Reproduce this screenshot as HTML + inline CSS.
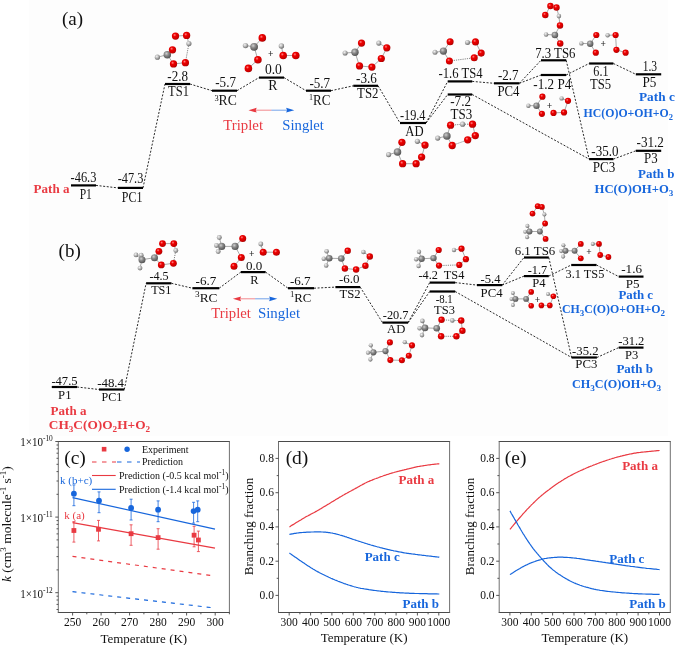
<!DOCTYPE html>
<html><head><meta charset="utf-8"><style>
html,body{margin:0;padding:0;background:#fff;}
svg{display:block;font-family:"Liberation Serif",serif;will-change:transform;}
</style></head><body>
<svg width="685" height="645" viewBox="0 0 685 645">
<defs>
<radialGradient id="gO" cx="0.38" cy="0.35" r="0.72"><stop offset="0" stop-color="#ff8a8a"/><stop offset="0.3" stop-color="#ee0000"/><stop offset="0.8" stop-color="#c80000"/><stop offset="1" stop-color="#900000"/></radialGradient>
<radialGradient id="gC" cx="0.38" cy="0.35" r="0.72"><stop offset="0" stop-color="#d0d0d0"/><stop offset="0.4" stop-color="#8a8a8a"/><stop offset="1" stop-color="#4a4a4a"/></radialGradient>
<radialGradient id="gH" cx="0.38" cy="0.35" r="0.72"><stop offset="0" stop-color="#f4f4f4"/><stop offset="0.45" stop-color="#b8b8b8"/><stop offset="1" stop-color="#5e5e5e"/></radialGradient>
</defs>
<rect x="0" y="0" width="685" height="645" fill="#fff"/>
<rect x="29" y="0" width="639" height="436" fill="#fdfdfd"/>

<text x="72.6" y="24.5" font-size="19" text-anchor="middle" fill="#111">(a)</text>
<line x1="96.0" y1="185.4" x2="118.0" y2="187.9" stroke="#111" stroke-width="0.9" stroke-dasharray="2 1.6"/>
<line x1="143.0" y1="187.9" x2="165.0" y2="84.0" stroke="#111" stroke-width="0.9" stroke-dasharray="2 1.6"/>
<line x1="190.0" y1="84.0" x2="212.0" y2="90.7" stroke="#111" stroke-width="0.9" stroke-dasharray="2 1.6"/>
<line x1="237.0" y1="90.7" x2="259.0" y2="77.6" stroke="#111" stroke-width="0.9" stroke-dasharray="2 1.6"/>
<line x1="284.0" y1="77.6" x2="306.0" y2="90.7" stroke="#111" stroke-width="0.9" stroke-dasharray="2 1.6"/>
<line x1="331.0" y1="90.7" x2="353.3" y2="85.8" stroke="#111" stroke-width="0.9" stroke-dasharray="2 1.6"/>
<line x1="378.1" y1="85.8" x2="400.0" y2="123.0" stroke="#111" stroke-width="0.9" stroke-dasharray="2 1.6"/>
<line x1="426.0" y1="123.0" x2="447.7" y2="81.4" stroke="#111" stroke-width="0.9" stroke-dasharray="2 1.6"/>
<line x1="426.0" y1="123.0" x2="447.7" y2="94.5" stroke="#111" stroke-width="0.9" stroke-dasharray="2 1.6"/>
<line x1="472.2" y1="81.4" x2="494.0" y2="83.3" stroke="#111" stroke-width="0.9" stroke-dasharray="2 1.6"/>
<line x1="472.2" y1="94.5" x2="589.1" y2="159.1" stroke="#111" stroke-width="0.9" stroke-dasharray="2 1.6"/>
<line x1="519.4" y1="83.3" x2="541.0" y2="60.3" stroke="#111" stroke-width="0.9" stroke-dasharray="2 1.6"/>
<line x1="519.4" y1="83.3" x2="541.0" y2="75.0" stroke="#111" stroke-width="0.9" stroke-dasharray="2 1.6"/>
<line x1="566.2" y1="60.3" x2="589.1" y2="159.1" stroke="#111" stroke-width="0.9" stroke-dasharray="2 1.6"/>
<line x1="566.2" y1="75.0" x2="589.1" y2="63.5" stroke="#111" stroke-width="0.9" stroke-dasharray="2 1.6"/>
<line x1="613.4" y1="63.5" x2="635.8" y2="74.3" stroke="#111" stroke-width="0.9" stroke-dasharray="2 1.6"/>
<line x1="613.4" y1="159.1" x2="635.8" y2="150.8" stroke="#111" stroke-width="0.9" stroke-dasharray="2 1.6"/>
<line x1="71.0" y1="185.4" x2="96.0" y2="185.4" stroke="#000" stroke-width="2.2"/>
<line x1="118.0" y1="187.9" x2="143.0" y2="187.9" stroke="#000" stroke-width="2.2"/>
<line x1="165.0" y1="84.0" x2="190.0" y2="84.0" stroke="#000" stroke-width="2.2"/>
<line x1="212.0" y1="90.7" x2="237.0" y2="90.7" stroke="#000" stroke-width="2.2"/>
<line x1="259.0" y1="77.6" x2="284.0" y2="77.6" stroke="#000" stroke-width="2.2"/>
<line x1="306.0" y1="90.7" x2="331.0" y2="90.7" stroke="#000" stroke-width="2.2"/>
<line x1="353.3" y1="85.8" x2="378.1" y2="85.8" stroke="#000" stroke-width="2.2"/>
<line x1="400.0" y1="123.0" x2="426.0" y2="123.0" stroke="#000" stroke-width="2.2"/>
<line x1="447.7" y1="81.4" x2="472.2" y2="81.4" stroke="#000" stroke-width="2.2"/>
<line x1="447.7" y1="94.5" x2="472.2" y2="94.5" stroke="#000" stroke-width="2.2"/>
<line x1="494.0" y1="83.3" x2="519.4" y2="83.3" stroke="#000" stroke-width="2.2"/>
<line x1="541.0" y1="60.3" x2="566.2" y2="60.3" stroke="#000" stroke-width="2.2"/>
<line x1="541.0" y1="75.0" x2="566.2" y2="75.0" stroke="#000" stroke-width="2.2"/>
<line x1="589.1" y1="63.5" x2="613.4" y2="63.5" stroke="#000" stroke-width="2.2"/>
<line x1="635.8" y1="74.3" x2="661.2" y2="74.3" stroke="#000" stroke-width="2.2"/>
<line x1="589.1" y1="159.1" x2="613.4" y2="159.1" stroke="#000" stroke-width="2.2"/>
<line x1="635.8" y1="150.8" x2="661.2" y2="150.8" stroke="#000" stroke-width="2.2"/>
<text x="83.5" y="182.1" font-size="13.8" text-anchor="middle" fill="#111" textLength="25.9" lengthAdjust="spacingAndGlyphs">-46.3</text>
<text x="85.8" y="198.5" font-size="13.8" text-anchor="middle" fill="#111" textLength="12.2" lengthAdjust="spacingAndGlyphs">P1</text>
<text x="130.5" y="183.3" font-size="13.8" text-anchor="middle" fill="#111" textLength="25.7" lengthAdjust="spacingAndGlyphs">-47.3</text>
<text x="132.1" y="201.8" font-size="13.8" text-anchor="middle" fill="#111" textLength="20.5" lengthAdjust="spacingAndGlyphs">PC1</text>
<text x="177.7" y="81.4" font-size="13.8" text-anchor="middle" fill="#111" textLength="20.7" lengthAdjust="spacingAndGlyphs">-2.8</text>
<text x="178.5" y="96.3" font-size="13.8" text-anchor="middle" fill="#111" textLength="20.8" lengthAdjust="spacingAndGlyphs">TS1</text>
<text x="225.6" y="87.1" font-size="13.8" text-anchor="middle" fill="#111" textLength="20.7" lengthAdjust="spacingAndGlyphs">-5.7</text>
<text x="225.6" y="105.0" font-size="13.8" text-anchor="middle" fill="#111" textLength="22.4" lengthAdjust="spacingAndGlyphs"><tspan font-size="8.5" dy="-4.5">3</tspan><tspan dy="4.5">RC</tspan></text>
<text x="273.4" y="73.9" font-size="13.8" text-anchor="middle" fill="#111" textLength="17.0" lengthAdjust="spacingAndGlyphs">0.0</text>
<text x="272.8" y="90.1" font-size="13.8" text-anchor="middle" fill="#111">R</text>
<text x="319.8" y="88.1" font-size="13.8" text-anchor="middle" fill="#111" textLength="20.7" lengthAdjust="spacingAndGlyphs">-5.7</text>
<text x="319.8" y="104.7" font-size="13.8" text-anchor="middle" fill="#111" textLength="21.4" lengthAdjust="spacingAndGlyphs"><tspan font-size="8.5" dy="-4.5">1</tspan><tspan dy="4.5">RC</tspan></text>
<text x="366.5" y="82.6" font-size="13.8" text-anchor="middle" fill="#111" textLength="20.8" lengthAdjust="spacingAndGlyphs">-3.6</text>
<text x="367.8" y="98.3" font-size="13.8" text-anchor="middle" fill="#111" textLength="21.4" lengthAdjust="spacingAndGlyphs">TS2</text>
<text x="412.7" y="120.4" font-size="13.8" text-anchor="middle" fill="#111" textLength="25.6" lengthAdjust="spacingAndGlyphs">-19.4</text>
<text x="414.4" y="135.8" font-size="13.8" text-anchor="middle" fill="#111" textLength="18.3" lengthAdjust="spacingAndGlyphs">AD</text>
<text x="460.6" y="77.7" font-size="13.8" text-anchor="middle" fill="#111" textLength="44.1" lengthAdjust="spacingAndGlyphs">-1.6 TS4</text>
<text x="460.6" y="106.3" font-size="13.8" text-anchor="middle" fill="#111" textLength="20.8" lengthAdjust="spacingAndGlyphs">-7.2</text>
<text x="461.4" y="119.4" font-size="13.8" text-anchor="middle" fill="#111" textLength="21.6" lengthAdjust="spacingAndGlyphs">TS3</text>
<text x="508.3" y="80.2" font-size="13.8" text-anchor="middle" fill="#111" textLength="20.5" lengthAdjust="spacingAndGlyphs">-2.7</text>
<text x="508.4" y="95.6" font-size="13.8" text-anchor="middle" fill="#111" textLength="22.0" lengthAdjust="spacingAndGlyphs">PC4</text>
<text x="555.3" y="57.6" font-size="13.8" text-anchor="middle" fill="#111" textLength="40.3" lengthAdjust="spacingAndGlyphs">7.3 TS6</text>
<text x="552.3" y="89.0" font-size="13.8" text-anchor="middle" fill="#111" textLength="37.9" lengthAdjust="spacingAndGlyphs">-1.2 P4</text>
<text x="600.9" y="75.7" font-size="13.8" text-anchor="middle" fill="#111" textLength="15.2" lengthAdjust="spacingAndGlyphs">6.1</text>
<text x="600.6" y="89.2" font-size="13.8" text-anchor="middle" fill="#111" textLength="21.1" lengthAdjust="spacingAndGlyphs">TS5</text>
<text x="649.9" y="70.8" font-size="13.8" text-anchor="middle" fill="#111" textLength="14.4" lengthAdjust="spacingAndGlyphs">1.3</text>
<text x="649.5" y="87.0" font-size="13.8" text-anchor="middle" fill="#111" textLength="13.9" lengthAdjust="spacingAndGlyphs">P5</text>
<text x="604.9" y="155.7" font-size="13.8" text-anchor="middle" fill="#111" textLength="27.1" lengthAdjust="spacingAndGlyphs">-35.0</text>
<text x="604.0" y="171.9" font-size="13.8" text-anchor="middle" fill="#111" textLength="22.5" lengthAdjust="spacingAndGlyphs">PC3</text>
<text x="650.2" y="146.8" font-size="13.8" text-anchor="middle" fill="#111" textLength="27.4" lengthAdjust="spacingAndGlyphs">-31.2</text>
<text x="650.9" y="163.0" font-size="13.8" text-anchor="middle" fill="#111" textLength="13.6" lengthAdjust="spacingAndGlyphs">P3</text>
<text x="33.6" y="192.8" font-size="13" text-anchor="start" fill="#e93a42" font-weight="bold" textLength="35.9" lengthAdjust="spacingAndGlyphs">Path a</text>
<text x="639.0" y="101.3" font-size="13" text-anchor="start" fill="#1766dc" font-weight="bold" textLength="35.8" lengthAdjust="spacingAndGlyphs">Path c</text>
<text x="583.6" y="116.7" font-size="12.3" text-anchor="start" fill="#1766dc" font-weight="bold" textLength="89.3" lengthAdjust="spacingAndGlyphs">HC(O)O+OH+O<tspan font-size="8.8" dy="3">2</tspan></text>
<text x="638.1" y="177.8" font-size="13" text-anchor="start" fill="#1766dc" font-weight="bold" textLength="36.4" lengthAdjust="spacingAndGlyphs">Path b</text>
<text x="594.6" y="192.7" font-size="12.3" text-anchor="start" fill="#1766dc" font-weight="bold" textLength="78.7" lengthAdjust="spacingAndGlyphs">HC(O)OH+O<tspan font-size="8.8" dy="3">3</tspan></text>
<line x1="254.5" y1="110.2" x2="271.4" y2="110.2" stroke="#e93a42" stroke-opacity="0.6" stroke-width="1"/>
<line x1="271.4" y1="110.2" x2="288.3" y2="110.2" stroke="#1766dc" stroke-opacity="0.6" stroke-width="1"/>
<path d="M248.5,110.2 L256.7,107.8 L255.7,110.2 L256.7,112.6 Z" fill="#e93a42"/>
<path d="M294.3,110.2 L286.1,107.8 L287.1,110.2 L286.1,112.6 Z" fill="#1766dc"/>
<text x="243.1" y="130.2" font-size="15.5" text-anchor="middle" fill="#e93a42" textLength="39.9" lengthAdjust="spacingAndGlyphs">Triplet</text>
<text x="303.1" y="130.2" font-size="15.5" text-anchor="middle" fill="#1766dc" textLength="41.6" lengthAdjust="spacingAndGlyphs">Singlet</text>
<line x1="175.5" y1="36.1" x2="186.6" y2="35.4" stroke="#aaa" stroke-width="1"/>
<line x1="186.6" y1="35.4" x2="188.9" y2="43.6" stroke="#aaa" stroke-width="1"/>
<line x1="167.3" y1="54.7" x2="172.5" y2="49.8" stroke="#aaa" stroke-width="1"/>
<line x1="167.3" y1="54.7" x2="157.4" y2="57.2" stroke="#aaa" stroke-width="1"/>
<line x1="167.3" y1="54.7" x2="173.5" y2="63.9" stroke="#aaa" stroke-width="1"/>
<line x1="173.5" y1="63.9" x2="185.4" y2="62.7" stroke="#aaa" stroke-width="1"/>
<line x1="188.9" y1="43.6" x2="185.4" y2="62.7" stroke="#777" stroke-width="0.9" stroke-dasharray="1.2 1"/>
<circle cx="188.9" cy="43.6" r="2.59" fill="url(#gH)"/>
<circle cx="157.4" cy="57.2" r="2.59" fill="url(#gH)"/>
<circle cx="167.3" cy="54.7" r="3.74" fill="url(#gC)"/>
<circle cx="175.5" cy="36.1" r="3.65" fill="url(#gO)"/>
<circle cx="186.6" cy="35.4" r="3.65" fill="url(#gO)"/>
<circle cx="172.5" cy="49.8" r="3.65" fill="url(#gO)"/>
<circle cx="173.5" cy="63.9" r="3.65" fill="url(#gO)"/>
<circle cx="185.4" cy="62.7" r="3.65" fill="url(#gO)"/>
<line x1="254.1" y1="46.8" x2="262.3" y2="37.9" stroke="#aaa" stroke-width="1"/>
<line x1="254.1" y1="46.8" x2="245.5" y2="45.6" stroke="#aaa" stroke-width="1"/>
<line x1="254.1" y1="46.8" x2="257.9" y2="59.7" stroke="#aaa" stroke-width="1"/>
<line x1="257.9" y1="59.7" x2="248.4" y2="68.4" stroke="#aaa" stroke-width="1"/>
<line x1="281.4" y1="46.0" x2="283.2" y2="55.5" stroke="#aaa" stroke-width="1"/>
<line x1="283.2" y1="55.5" x2="295.8" y2="55.5" stroke="#aaa" stroke-width="1"/>
<circle cx="245.5" cy="45.6" r="2.70" fill="url(#gH)"/>
<circle cx="281.4" cy="46.0" r="2.70" fill="url(#gH)"/>
<circle cx="254.1" cy="46.8" r="3.90" fill="url(#gC)"/>
<circle cx="262.3" cy="37.9" r="3.80" fill="url(#gO)"/>
<circle cx="257.9" cy="59.7" r="3.80" fill="url(#gO)"/>
<circle cx="248.4" cy="68.4" r="3.80" fill="url(#gO)"/>
<circle cx="283.2" cy="55.5" r="3.80" fill="url(#gO)"/>
<circle cx="295.8" cy="55.5" r="3.80" fill="url(#gO)"/>
<text x="270.8" y="56.5" font-size="9.5" text-anchor="middle" fill="#222" font-weight="bold">+</text>
<line x1="355.0" y1="52.3" x2="361.5" y2="43.1" stroke="#aaa" stroke-width="1"/>
<line x1="355.0" y1="52.3" x2="345.1" y2="53.0" stroke="#aaa" stroke-width="1"/>
<line x1="355.0" y1="52.3" x2="359.5" y2="65.9" stroke="#aaa" stroke-width="1"/>
<line x1="359.5" y1="65.9" x2="371.9" y2="67.1" stroke="#aaa" stroke-width="1"/>
<line x1="371.9" y1="67.1" x2="381.3" y2="58.5" stroke="#aaa" stroke-width="1"/>
<line x1="381.3" y1="58.5" x2="386.8" y2="47.8" stroke="#aaa" stroke-width="1"/>
<line x1="386.8" y1="47.8" x2="378.8" y2="43.1" stroke="#aaa" stroke-width="1"/>
<circle cx="345.1" cy="53.0" r="2.56" fill="url(#gH)"/>
<circle cx="378.8" cy="43.1" r="2.56" fill="url(#gH)"/>
<circle cx="355.0" cy="52.3" r="3.70" fill="url(#gC)"/>
<circle cx="361.5" cy="43.1" r="3.61" fill="url(#gO)"/>
<circle cx="359.5" cy="65.9" r="3.61" fill="url(#gO)"/>
<circle cx="371.9" cy="67.1" r="3.61" fill="url(#gO)"/>
<circle cx="381.3" cy="58.5" r="3.61" fill="url(#gO)"/>
<circle cx="386.8" cy="47.8" r="3.61" fill="url(#gO)"/>
<line x1="443.4" y1="51.1" x2="450.1" y2="41.7" stroke="#aaa" stroke-width="1"/>
<line x1="443.4" y1="51.1" x2="435.0" y2="52.3" stroke="#aaa" stroke-width="1"/>
<line x1="443.4" y1="51.1" x2="449.4" y2="61.0" stroke="#aaa" stroke-width="1"/>
<line x1="474.2" y1="57.8" x2="481.2" y2="53.1" stroke="#aaa" stroke-width="1"/>
<line x1="481.2" y1="53.1" x2="475.5" y2="41.9" stroke="#aaa" stroke-width="1"/>
<line x1="475.5" y1="41.9" x2="467.5" y2="42.4" stroke="#aaa" stroke-width="1"/>
<line x1="449.4" y1="61.0" x2="474.2" y2="57.8" stroke="#777" stroke-width="0.9" stroke-dasharray="1.2 1"/>
<circle cx="435.0" cy="52.3" r="2.51" fill="url(#gH)"/>
<circle cx="467.5" cy="42.4" r="2.51" fill="url(#gH)"/>
<circle cx="443.4" cy="51.1" r="3.63" fill="url(#gC)"/>
<circle cx="450.1" cy="41.7" r="3.53" fill="url(#gO)"/>
<circle cx="449.4" cy="61.0" r="3.53" fill="url(#gO)"/>
<circle cx="474.2" cy="57.8" r="3.53" fill="url(#gO)"/>
<circle cx="481.2" cy="53.1" r="3.53" fill="url(#gO)"/>
<circle cx="475.5" cy="41.9" r="3.53" fill="url(#gO)"/>
<line x1="550.4" y1="6.1" x2="556.5" y2="7.5" stroke="#aaa" stroke-width="1"/>
<line x1="550.4" y1="6.1" x2="545.3" y2="14.9" stroke="#aaa" stroke-width="1"/>
<line x1="556.5" y1="7.5" x2="558.9" y2="16.1" stroke="#aaa" stroke-width="1"/>
<line x1="558.9" y1="16.1" x2="560.0" y2="25.4" stroke="#aaa" stroke-width="1"/>
<line x1="560.0" y1="25.4" x2="554.9" y2="35.0" stroke="#aaa" stroke-width="1"/>
<line x1="554.9" y1="35.0" x2="546.1" y2="34.5" stroke="#aaa" stroke-width="1"/>
<line x1="554.9" y1="35.0" x2="560.2" y2="43.4" stroke="#aaa" stroke-width="1"/>
<circle cx="558.9" cy="16.1" r="2.29" fill="url(#gH)"/>
<circle cx="546.1" cy="34.5" r="2.29" fill="url(#gH)"/>
<circle cx="554.9" cy="35.0" r="3.31" fill="url(#gC)"/>
<circle cx="550.4" cy="6.1" r="3.23" fill="url(#gO)"/>
<circle cx="556.5" cy="7.5" r="3.23" fill="url(#gO)"/>
<circle cx="545.3" cy="14.9" r="3.23" fill="url(#gO)"/>
<circle cx="560.0" cy="25.4" r="3.23" fill="url(#gO)"/>
<circle cx="560.2" cy="43.4" r="3.23" fill="url(#gO)"/>
<line x1="590.2" y1="43.7" x2="581.4" y2="43.4" stroke="#aaa" stroke-width="1"/>
<line x1="590.2" y1="43.7" x2="596.3" y2="35.0" stroke="#aaa" stroke-width="1"/>
<line x1="590.2" y1="43.7" x2="595.8" y2="52.7" stroke="#aaa" stroke-width="1"/>
<line x1="607.6" y1="35.3" x2="615.6" y2="35.0" stroke="#aaa" stroke-width="1"/>
<line x1="615.6" y1="35.0" x2="616.4" y2="49.8" stroke="#aaa" stroke-width="1"/>
<line x1="616.4" y1="49.8" x2="625.6" y2="52.7" stroke="#aaa" stroke-width="1"/>
<circle cx="581.4" cy="43.4" r="2.21" fill="url(#gH)"/>
<circle cx="607.6" cy="35.3" r="2.21" fill="url(#gH)"/>
<circle cx="590.2" cy="43.7" r="3.20" fill="url(#gC)"/>
<circle cx="596.3" cy="35.0" r="3.12" fill="url(#gO)"/>
<circle cx="595.8" cy="52.7" r="3.12" fill="url(#gO)"/>
<circle cx="615.6" cy="35.0" r="3.12" fill="url(#gO)"/>
<circle cx="616.4" cy="49.8" r="3.12" fill="url(#gO)"/>
<circle cx="625.6" cy="52.7" r="3.12" fill="url(#gO)"/>
<text x="603.1" y="46.7" font-size="9.5" text-anchor="middle" fill="#222" font-weight="bold">+</text>
<line x1="536.5" y1="105.7" x2="542.4" y2="96.7" stroke="#aaa" stroke-width="1"/>
<line x1="536.5" y1="105.7" x2="528.4" y2="105.7" stroke="#aaa" stroke-width="1"/>
<line x1="536.5" y1="105.7" x2="541.9" y2="113.8" stroke="#aaa" stroke-width="1"/>
<line x1="561.6" y1="98.4" x2="568.0" y2="100.8" stroke="#aaa" stroke-width="1"/>
<line x1="568.0" y1="100.8" x2="564.0" y2="112.4" stroke="#aaa" stroke-width="1"/>
<line x1="564.0" y1="112.4" x2="553.5" y2="112.9" stroke="#aaa" stroke-width="1"/>
<circle cx="528.4" cy="105.7" r="2.21" fill="url(#gH)"/>
<circle cx="561.6" cy="98.4" r="2.21" fill="url(#gH)"/>
<circle cx="536.5" cy="105.7" r="3.20" fill="url(#gC)"/>
<circle cx="542.4" cy="96.7" r="3.12" fill="url(#gO)"/>
<circle cx="541.9" cy="113.8" r="3.12" fill="url(#gO)"/>
<circle cx="568.0" cy="100.8" r="3.12" fill="url(#gO)"/>
<circle cx="564.0" cy="112.4" r="3.12" fill="url(#gO)"/>
<circle cx="553.5" cy="112.9" r="3.12" fill="url(#gO)"/>
<text x="549.4" y="108.7" font-size="9.5" text-anchor="middle" fill="#222" font-weight="bold">+</text>
<line x1="397.5" y1="152.1" x2="401.9" y2="142.3" stroke="#aaa" stroke-width="1"/>
<line x1="397.5" y1="152.1" x2="388.6" y2="154.6" stroke="#aaa" stroke-width="1"/>
<line x1="397.5" y1="152.1" x2="402.6" y2="163.7" stroke="#aaa" stroke-width="1"/>
<line x1="402.6" y1="163.7" x2="416.1" y2="163.7" stroke="#aaa" stroke-width="1"/>
<line x1="416.1" y1="163.7" x2="421.6" y2="157.1" stroke="#aaa" stroke-width="1"/>
<line x1="421.6" y1="157.1" x2="425.0" y2="145.1" stroke="#aaa" stroke-width="1"/>
<line x1="425.0" y1="145.1" x2="417.4" y2="141.3" stroke="#aaa" stroke-width="1"/>
<circle cx="388.6" cy="154.6" r="2.59" fill="url(#gH)"/>
<circle cx="417.4" cy="141.3" r="2.59" fill="url(#gH)"/>
<circle cx="397.5" cy="152.1" r="3.74" fill="url(#gC)"/>
<circle cx="401.9" cy="142.3" r="3.65" fill="url(#gO)"/>
<circle cx="402.6" cy="163.7" r="3.65" fill="url(#gO)"/>
<circle cx="416.1" cy="163.7" r="3.65" fill="url(#gO)"/>
<circle cx="421.6" cy="157.1" r="3.65" fill="url(#gO)"/>
<circle cx="425.0" cy="145.1" r="3.65" fill="url(#gO)"/>
<line x1="446.9" y1="136.0" x2="450.6" y2="125.2" stroke="#aaa" stroke-width="1"/>
<line x1="446.9" y1="136.0" x2="452.2" y2="145.5" stroke="#aaa" stroke-width="1"/>
<line x1="446.9" y1="136.0" x2="437.7" y2="138.1" stroke="#aaa" stroke-width="1"/>
<line x1="472.5" y1="124.2" x2="475.3" y2="135.6" stroke="#aaa" stroke-width="1"/>
<line x1="475.3" y1="135.6" x2="467.7" y2="139.8" stroke="#aaa" stroke-width="1"/>
<line x1="450.6" y1="125.2" x2="462.6" y2="124.2" stroke="#777" stroke-width="0.9" stroke-dasharray="1.2 1"/>
<line x1="462.6" y1="124.2" x2="472.5" y2="124.2" stroke="#777" stroke-width="0.9" stroke-dasharray="1.2 1"/>
<line x1="452.2" y1="145.5" x2="467.7" y2="139.8" stroke="#777" stroke-width="0.9" stroke-dasharray="1.2 1"/>
<circle cx="462.6" cy="124.2" r="2.59" fill="url(#gH)"/>
<circle cx="437.7" cy="138.1" r="2.59" fill="url(#gH)"/>
<circle cx="446.9" cy="136.0" r="3.74" fill="url(#gC)"/>
<circle cx="450.6" cy="125.2" r="3.65" fill="url(#gO)"/>
<circle cx="472.5" cy="124.2" r="3.65" fill="url(#gO)"/>
<circle cx="475.3" cy="135.6" r="3.65" fill="url(#gO)"/>
<circle cx="467.7" cy="139.8" r="3.65" fill="url(#gO)"/>
<circle cx="452.2" cy="145.5" r="3.65" fill="url(#gO)"/>
<text x="69.7" y="256.7" font-size="19" text-anchor="middle" fill="#111">(b)</text>
<line x1="77.1" y1="387.0" x2="99.0" y2="389.5" stroke="#111" stroke-width="0.9" stroke-dasharray="2 1.6"/>
<line x1="124.3" y1="389.5" x2="146.1" y2="283.3" stroke="#111" stroke-width="0.9" stroke-dasharray="2 1.6"/>
<line x1="171.4" y1="283.3" x2="192.4" y2="288.2" stroke="#111" stroke-width="0.9" stroke-dasharray="2 1.6"/>
<line x1="219.2" y1="288.2" x2="240.8" y2="272.1" stroke="#111" stroke-width="0.9" stroke-dasharray="2 1.6"/>
<line x1="265.6" y1="272.1" x2="288.0" y2="288.2" stroke="#111" stroke-width="0.9" stroke-dasharray="2 1.6"/>
<line x1="314.0" y1="288.2" x2="335.4" y2="287.1" stroke="#111" stroke-width="0.9" stroke-dasharray="2 1.6"/>
<line x1="360.2" y1="287.1" x2="382.5" y2="322.6" stroke="#111" stroke-width="0.9" stroke-dasharray="2 1.6"/>
<line x1="408.1" y1="322.6" x2="429.7" y2="282.6" stroke="#111" stroke-width="0.9" stroke-dasharray="2 1.6"/>
<line x1="408.1" y1="322.6" x2="429.7" y2="291.5" stroke="#111" stroke-width="0.9" stroke-dasharray="2 1.6"/>
<line x1="455.2" y1="282.6" x2="476.9" y2="285.1" stroke="#111" stroke-width="0.9" stroke-dasharray="2 1.6"/>
<line x1="455.2" y1="291.5" x2="571.6" y2="357.5" stroke="#111" stroke-width="0.9" stroke-dasharray="2 1.6"/>
<line x1="502.2" y1="285.1" x2="524.0" y2="257.5" stroke="#111" stroke-width="0.9" stroke-dasharray="2 1.6"/>
<line x1="502.2" y1="285.1" x2="524.0" y2="276.1" stroke="#111" stroke-width="0.9" stroke-dasharray="2 1.6"/>
<line x1="548.8" y1="257.5" x2="571.6" y2="357.5" stroke="#111" stroke-width="0.9" stroke-dasharray="2 1.6"/>
<line x1="548.8" y1="276.1" x2="571.2" y2="265.0" stroke="#111" stroke-width="0.9" stroke-dasharray="2 1.6"/>
<line x1="596.5" y1="265.0" x2="618.7" y2="276.6" stroke="#111" stroke-width="0.9" stroke-dasharray="2 1.6"/>
<line x1="596.9" y1="357.5" x2="618.7" y2="347.6" stroke="#111" stroke-width="0.9" stroke-dasharray="2 1.6"/>
<line x1="51.8" y1="387.0" x2="77.1" y2="387.0" stroke="#000" stroke-width="2.2"/>
<line x1="99.0" y1="389.5" x2="124.3" y2="389.5" stroke="#000" stroke-width="2.2"/>
<line x1="146.1" y1="283.3" x2="171.4" y2="283.3" stroke="#000" stroke-width="2.2"/>
<line x1="192.4" y1="288.2" x2="219.2" y2="288.2" stroke="#000" stroke-width="2.2"/>
<line x1="240.8" y1="272.1" x2="265.6" y2="272.1" stroke="#000" stroke-width="2.2"/>
<line x1="288.0" y1="288.2" x2="314.0" y2="288.2" stroke="#000" stroke-width="2.2"/>
<line x1="335.4" y1="287.1" x2="360.2" y2="287.1" stroke="#000" stroke-width="2.2"/>
<line x1="382.5" y1="322.6" x2="408.1" y2="322.6" stroke="#000" stroke-width="2.2"/>
<line x1="429.7" y1="282.6" x2="455.2" y2="282.6" stroke="#000" stroke-width="2.2"/>
<line x1="429.7" y1="291.5" x2="455.2" y2="291.5" stroke="#000" stroke-width="2.2"/>
<line x1="476.9" y1="285.1" x2="502.2" y2="285.1" stroke="#000" stroke-width="2.2"/>
<line x1="524.0" y1="257.5" x2="548.8" y2="257.5" stroke="#000" stroke-width="2.2"/>
<line x1="524.0" y1="276.1" x2="548.8" y2="276.1" stroke="#000" stroke-width="2.2"/>
<line x1="571.2" y1="265.0" x2="596.5" y2="265.0" stroke="#000" stroke-width="2.2"/>
<line x1="618.7" y1="276.6" x2="643.5" y2="276.6" stroke="#000" stroke-width="2.2"/>
<line x1="571.6" y1="357.5" x2="596.9" y2="357.5" stroke="#000" stroke-width="2.2"/>
<line x1="618.7" y1="347.6" x2="643.5" y2="347.6" stroke="#000" stroke-width="2.2"/>
<text x="64.5" y="385.0" font-size="12.4" text-anchor="middle" fill="#111" textLength="26.2" lengthAdjust="spacingAndGlyphs">-47.5</text>
<text x="64.8" y="398.9" font-size="12.4" text-anchor="middle" fill="#111" textLength="13.4" lengthAdjust="spacingAndGlyphs">P1</text>
<text x="110.6" y="387.0" font-size="12.4" text-anchor="middle" fill="#111" textLength="26.9" lengthAdjust="spacingAndGlyphs">-48.4</text>
<text x="111.9" y="400.6" font-size="12.4" text-anchor="middle" fill="#111" textLength="20.7" lengthAdjust="spacingAndGlyphs">PC1</text>
<text x="159.0" y="280.3" font-size="12.4" text-anchor="middle" fill="#111" textLength="19.2" lengthAdjust="spacingAndGlyphs">-4.5</text>
<text x="161.3" y="294.4" font-size="12.4" text-anchor="middle" fill="#111" textLength="20.3" lengthAdjust="spacingAndGlyphs">TS1</text>
<text x="206.0" y="284.5" font-size="12.4" text-anchor="middle" fill="#111" textLength="20.8" lengthAdjust="spacingAndGlyphs">-6.7</text>
<text x="206.3" y="301.9" font-size="12.4" text-anchor="middle" fill="#111" textLength="22.4" lengthAdjust="spacingAndGlyphs"><tspan font-size="8.5" dy="-4.5">3</tspan><tspan dy="4.5">RC</tspan></text>
<text x="254.2" y="270.0" font-size="12.4" text-anchor="middle" fill="#111" textLength="16.3" lengthAdjust="spacingAndGlyphs">0.0</text>
<text x="254.5" y="284.0" font-size="12.4" text-anchor="middle" fill="#111">R</text>
<text x="300.3" y="284.5" font-size="12.4" text-anchor="middle" fill="#111" textLength="20.8" lengthAdjust="spacingAndGlyphs">-6.7</text>
<text x="300.6" y="301.9" font-size="12.4" text-anchor="middle" fill="#111" textLength="21.4" lengthAdjust="spacingAndGlyphs"><tspan font-size="8.5" dy="-4.5">1</tspan><tspan dy="4.5">RC</tspan></text>
<text x="349.2" y="283.3" font-size="12.4" text-anchor="middle" fill="#111" textLength="20.5" lengthAdjust="spacingAndGlyphs">-6.0</text>
<text x="350.0" y="298.2" font-size="12.4" text-anchor="middle" fill="#111" textLength="21.2" lengthAdjust="spacingAndGlyphs">TS2</text>
<text x="395.7" y="319.3" font-size="12.4" text-anchor="middle" fill="#111" textLength="25.7" lengthAdjust="spacingAndGlyphs">-20.7</text>
<text x="396.2" y="333.0" font-size="12.4" text-anchor="middle" fill="#111" textLength="18.3" lengthAdjust="spacingAndGlyphs">AD</text>
<text x="441.4" y="279.1" font-size="12.4" text-anchor="middle" fill="#111" textLength="46.0" lengthAdjust="spacingAndGlyphs">-4.2&#160; TS4</text>
<text x="444.2" y="303.2" font-size="12.4" text-anchor="middle" fill="#111" textLength="17.1" lengthAdjust="spacingAndGlyphs">-8.1</text>
<text x="444.5" y="314.4" font-size="12.4" text-anchor="middle" fill="#111" textLength="20.8" lengthAdjust="spacingAndGlyphs">TS3</text>
<text x="490.6" y="283.1" font-size="12.4" text-anchor="middle" fill="#111" textLength="20.0" lengthAdjust="spacingAndGlyphs">-5.4</text>
<text x="491.6" y="296.7" font-size="12.4" text-anchor="middle" fill="#111" textLength="22.0" lengthAdjust="spacingAndGlyphs">PC4</text>
<text x="535.0" y="254.6" font-size="12.4" text-anchor="middle" fill="#111" textLength="40.6" lengthAdjust="spacingAndGlyphs">6.1 TS6</text>
<text x="537.5" y="273.9" font-size="12.4" text-anchor="middle" fill="#111" textLength="19.5" lengthAdjust="spacingAndGlyphs">-1.7</text>
<text x="538.9" y="286.8" font-size="12.4" text-anchor="middle" fill="#111" textLength="13.3" lengthAdjust="spacingAndGlyphs">P4</text>
<text x="585.0" y="278.1" font-size="12.4" text-anchor="middle" fill="#111" textLength="38.8" lengthAdjust="spacingAndGlyphs">3.1 TS5</text>
<text x="631.6" y="272.9" font-size="12.4" text-anchor="middle" fill="#111" textLength="20.8" lengthAdjust="spacingAndGlyphs">-1.6</text>
<text x="632.6" y="287.8" font-size="12.4" text-anchor="middle" fill="#111" textLength="13.8" lengthAdjust="spacingAndGlyphs">P5</text>
<text x="585.3" y="355.0" font-size="12.4" text-anchor="middle" fill="#111" textLength="26.4" lengthAdjust="spacingAndGlyphs">-35.2</text>
<text x="586.3" y="368.0" font-size="12.4" text-anchor="middle" fill="#111" textLength="22.0" lengthAdjust="spacingAndGlyphs">PC3</text>
<text x="631.3" y="345.3" font-size="12.4" text-anchor="middle" fill="#111" textLength="26.2" lengthAdjust="spacingAndGlyphs">-31.2</text>
<text x="631.6" y="359.3" font-size="12.4" text-anchor="middle" fill="#111" textLength="13.3" lengthAdjust="spacingAndGlyphs">P3</text>
<text x="50.6" y="415.0" font-size="13" text-anchor="start" fill="#e93a42" font-weight="bold" textLength="35.8" lengthAdjust="spacingAndGlyphs">Path a</text>
<text x="48.8" y="428.8" font-size="12.8" text-anchor="start" fill="#e93a42" font-weight="bold" textLength="101.3" lengthAdjust="spacingAndGlyphs">CH<tspan font-size="8.8" dy="3">3</tspan><tspan dy="-3">C(O)O</tspan><tspan font-size="8.8" dy="3">2</tspan><tspan dy="-3">H+O</tspan><tspan font-size="8.8" dy="3">2</tspan></text>
<text x="618.4" y="298.8" font-size="12.3" text-anchor="start" fill="#1766dc" font-weight="bold" textLength="34.7" lengthAdjust="spacingAndGlyphs">Path c</text>
<text x="562.0" y="312.8" font-size="11.6" text-anchor="start" fill="#1766dc" font-weight="bold" textLength="103.1" lengthAdjust="spacingAndGlyphs">CH<tspan font-size="8.8" dy="3">3</tspan><tspan dy="-3">C(O)O+OH+O</tspan><tspan font-size="8.8" dy="3">2</tspan></text>
<text x="616.4" y="372.8" font-size="12.3" text-anchor="start" fill="#1766dc" font-weight="bold" textLength="36.5" lengthAdjust="spacingAndGlyphs">Path b</text>
<text x="572.0" y="387.7" font-size="11.6" text-anchor="start" fill="#1766dc" font-weight="bold" textLength="89.2" lengthAdjust="spacingAndGlyphs">CH<tspan font-size="8.8" dy="3">3</tspan><tspan dy="-3">C(O)OH+O</tspan><tspan font-size="8.8" dy="3">3</tspan></text>
<line x1="238.9" y1="298.8" x2="255.1" y2="298.8" stroke="#e93a42" stroke-opacity="0.6" stroke-width="1"/>
<line x1="255.1" y1="298.8" x2="271.3" y2="298.8" stroke="#1766dc" stroke-opacity="0.6" stroke-width="1"/>
<path d="M232.9,298.8 L241.1,296.4 L240.1,298.8 L241.1,301.2 Z" fill="#e93a42"/>
<path d="M277.3,298.8 L269.1,296.4 L270.1,298.8 L269.1,301.2 Z" fill="#1766dc"/>
<text x="231.1" y="318.2" font-size="15.5" text-anchor="middle" fill="#e93a42" textLength="39.7" lengthAdjust="spacingAndGlyphs">Triplet</text>
<text x="279.0" y="318.2" font-size="15.5" text-anchor="middle" fill="#1766dc" textLength="42.2" lengthAdjust="spacingAndGlyphs">Singlet</text>
<line x1="142.0" y1="259.7" x2="154.5" y2="257.7" stroke="#aaa" stroke-width="1"/>
<line x1="154.5" y1="257.7" x2="158.9" y2="251.3" stroke="#aaa" stroke-width="1"/>
<line x1="154.5" y1="257.7" x2="161.3" y2="264.9" stroke="#aaa" stroke-width="1"/>
<line x1="162.5" y1="243.6" x2="173.8" y2="243.6" stroke="#aaa" stroke-width="1"/>
<line x1="173.8" y1="243.6" x2="175.8" y2="250.5" stroke="#aaa" stroke-width="1"/>
<line x1="173.4" y1="263.3" x2="161.3" y2="264.9" stroke="#aaa" stroke-width="1"/>
<line x1="142.0" y1="259.7" x2="136.0" y2="254.9" stroke="#aaa" stroke-width="1"/>
<line x1="142.0" y1="259.7" x2="141.2" y2="255.2" stroke="#aaa" stroke-width="1"/>
<line x1="142.0" y1="259.7" x2="140.0" y2="268.1" stroke="#aaa" stroke-width="1"/>
<line x1="175.8" y1="250.5" x2="173.4" y2="263.3" stroke="#777" stroke-width="0.9" stroke-dasharray="1.2 1"/>
<circle cx="175.8" cy="250.5" r="2.43" fill="url(#gH)"/>
<circle cx="136.0" cy="254.9" r="2.43" fill="url(#gH)"/>
<circle cx="141.2" cy="255.2" r="2.43" fill="url(#gH)"/>
<circle cx="140.0" cy="268.1" r="2.43" fill="url(#gH)"/>
<circle cx="142.0" cy="259.7" r="3.51" fill="url(#gC)"/>
<circle cx="154.5" cy="257.7" r="3.51" fill="url(#gC)"/>
<circle cx="158.9" cy="251.3" r="3.42" fill="url(#gO)"/>
<circle cx="162.5" cy="243.6" r="3.42" fill="url(#gO)"/>
<circle cx="173.8" cy="243.6" r="3.42" fill="url(#gO)"/>
<circle cx="173.4" cy="263.3" r="3.42" fill="url(#gO)"/>
<circle cx="161.3" cy="264.9" r="3.42" fill="url(#gO)"/>
<line x1="221.7" y1="246.4" x2="235.1" y2="246.4" stroke="#aaa" stroke-width="1"/>
<line x1="235.1" y1="246.4" x2="242.7" y2="238.4" stroke="#aaa" stroke-width="1"/>
<line x1="235.1" y1="246.4" x2="241.3" y2="257.5" stroke="#aaa" stroke-width="1"/>
<line x1="241.3" y1="257.5" x2="234.0" y2="266.2" stroke="#aaa" stroke-width="1"/>
<line x1="260.8" y1="244.0" x2="263.2" y2="252.2" stroke="#aaa" stroke-width="1"/>
<line x1="263.2" y1="252.2" x2="276.4" y2="252.2" stroke="#aaa" stroke-width="1"/>
<line x1="221.7" y1="246.4" x2="219.3" y2="237.6" stroke="#aaa" stroke-width="1"/>
<line x1="221.7" y1="246.4" x2="216.5" y2="245.5" stroke="#aaa" stroke-width="1"/>
<line x1="221.7" y1="246.4" x2="218.2" y2="251.6" stroke="#aaa" stroke-width="1"/>
<circle cx="260.8" cy="244.0" r="2.48" fill="url(#gH)"/>
<circle cx="219.3" cy="237.6" r="2.48" fill="url(#gH)"/>
<circle cx="216.5" cy="245.5" r="2.48" fill="url(#gH)"/>
<circle cx="218.2" cy="251.6" r="2.48" fill="url(#gH)"/>
<circle cx="221.7" cy="246.4" r="3.59" fill="url(#gC)"/>
<circle cx="235.1" cy="246.4" r="3.59" fill="url(#gC)"/>
<circle cx="242.7" cy="238.4" r="3.50" fill="url(#gO)"/>
<circle cx="241.3" cy="257.5" r="3.50" fill="url(#gO)"/>
<circle cx="234.0" cy="266.2" r="3.50" fill="url(#gO)"/>
<circle cx="263.2" cy="252.2" r="3.50" fill="url(#gO)"/>
<circle cx="276.4" cy="252.2" r="3.50" fill="url(#gO)"/>
<text x="251.8" y="257.3" font-size="9.5" text-anchor="middle" fill="#222" font-weight="bold">+</text>
<line x1="329.2" y1="258.3" x2="341.3" y2="258.5" stroke="#aaa" stroke-width="1"/>
<line x1="341.3" y1="258.5" x2="347.7" y2="250.8" stroke="#aaa" stroke-width="1"/>
<line x1="341.3" y1="258.5" x2="344.9" y2="268.5" stroke="#aaa" stroke-width="1"/>
<line x1="344.9" y1="268.5" x2="356.1" y2="269.5" stroke="#aaa" stroke-width="1"/>
<line x1="356.1" y1="269.5" x2="365.4" y2="265.7" stroke="#aaa" stroke-width="1"/>
<line x1="365.4" y1="265.7" x2="369.8" y2="256.4" stroke="#aaa" stroke-width="1"/>
<line x1="369.8" y1="256.4" x2="363.4" y2="252.0" stroke="#aaa" stroke-width="1"/>
<line x1="329.2" y1="258.3" x2="326.6" y2="251.3" stroke="#aaa" stroke-width="1"/>
<line x1="329.2" y1="258.3" x2="323.8" y2="258.7" stroke="#aaa" stroke-width="1"/>
<line x1="329.2" y1="258.3" x2="326.2" y2="265.5" stroke="#aaa" stroke-width="1"/>
<circle cx="363.4" cy="252.0" r="2.29" fill="url(#gH)"/>
<circle cx="326.6" cy="251.3" r="2.29" fill="url(#gH)"/>
<circle cx="323.8" cy="258.7" r="2.29" fill="url(#gH)"/>
<circle cx="326.2" cy="265.5" r="2.29" fill="url(#gH)"/>
<circle cx="329.2" cy="258.3" r="3.31" fill="url(#gC)"/>
<circle cx="341.3" cy="258.5" r="3.31" fill="url(#gC)"/>
<circle cx="347.7" cy="250.8" r="3.23" fill="url(#gO)"/>
<circle cx="344.9" cy="268.5" r="3.23" fill="url(#gO)"/>
<circle cx="356.1" cy="269.5" r="3.23" fill="url(#gO)"/>
<circle cx="365.4" cy="265.7" r="3.23" fill="url(#gO)"/>
<circle cx="369.8" cy="256.4" r="3.23" fill="url(#gO)"/>
<line x1="421.6" y1="258.8" x2="433.5" y2="258.1" stroke="#aaa" stroke-width="1"/>
<line x1="433.5" y1="258.1" x2="438.7" y2="250.0" stroke="#aaa" stroke-width="1"/>
<line x1="433.5" y1="258.1" x2="439.0" y2="265.6" stroke="#aaa" stroke-width="1"/>
<line x1="459.3" y1="264.9" x2="465.9" y2="259.2" stroke="#aaa" stroke-width="1"/>
<line x1="465.9" y1="259.2" x2="461.5" y2="248.7" stroke="#aaa" stroke-width="1"/>
<line x1="461.5" y1="248.7" x2="454.0" y2="250.0" stroke="#aaa" stroke-width="1"/>
<line x1="421.6" y1="258.8" x2="419.0" y2="251.8" stroke="#aaa" stroke-width="1"/>
<line x1="421.6" y1="258.8" x2="416.2" y2="259.2" stroke="#aaa" stroke-width="1"/>
<line x1="421.6" y1="258.8" x2="418.6" y2="266.0" stroke="#aaa" stroke-width="1"/>
<line x1="439.0" y1="265.6" x2="459.3" y2="264.9" stroke="#777" stroke-width="0.9" stroke-dasharray="1.2 1"/>
<circle cx="454.0" cy="250.0" r="2.21" fill="url(#gH)"/>
<circle cx="419.0" cy="251.8" r="2.21" fill="url(#gH)"/>
<circle cx="416.2" cy="259.2" r="2.21" fill="url(#gH)"/>
<circle cx="418.6" cy="266.0" r="2.21" fill="url(#gH)"/>
<circle cx="421.6" cy="258.8" r="3.20" fill="url(#gC)"/>
<circle cx="433.5" cy="258.1" r="3.20" fill="url(#gC)"/>
<circle cx="438.7" cy="250.0" r="3.12" fill="url(#gO)"/>
<circle cx="439.0" cy="265.6" r="3.12" fill="url(#gO)"/>
<circle cx="459.3" cy="264.9" r="3.12" fill="url(#gO)"/>
<circle cx="465.9" cy="259.2" r="3.12" fill="url(#gO)"/>
<circle cx="461.5" cy="248.7" r="3.12" fill="url(#gO)"/>
<line x1="373.4" y1="352.3" x2="385.5" y2="351.1" stroke="#aaa" stroke-width="1"/>
<line x1="385.5" y1="351.1" x2="389.9" y2="342.4" stroke="#aaa" stroke-width="1"/>
<line x1="385.5" y1="351.1" x2="390.3" y2="360.1" stroke="#aaa" stroke-width="1"/>
<line x1="390.3" y1="360.1" x2="401.9" y2="360.3" stroke="#aaa" stroke-width="1"/>
<line x1="401.9" y1="360.3" x2="408.8" y2="355.7" stroke="#aaa" stroke-width="1"/>
<line x1="408.8" y1="355.7" x2="412.0" y2="345.4" stroke="#aaa" stroke-width="1"/>
<line x1="412.0" y1="345.4" x2="404.8" y2="342.2" stroke="#aaa" stroke-width="1"/>
<line x1="373.4" y1="352.3" x2="370.8" y2="345.3" stroke="#aaa" stroke-width="1"/>
<line x1="373.4" y1="352.3" x2="368.0" y2="352.7" stroke="#aaa" stroke-width="1"/>
<line x1="373.4" y1="352.3" x2="370.4" y2="359.5" stroke="#aaa" stroke-width="1"/>
<circle cx="404.8" cy="342.2" r="2.16" fill="url(#gH)"/>
<circle cx="370.8" cy="345.3" r="2.16" fill="url(#gH)"/>
<circle cx="368.0" cy="352.7" r="2.16" fill="url(#gH)"/>
<circle cx="370.4" cy="359.5" r="2.16" fill="url(#gH)"/>
<circle cx="373.4" cy="352.3" r="3.12" fill="url(#gC)"/>
<circle cx="385.5" cy="351.1" r="3.12" fill="url(#gC)"/>
<circle cx="389.9" cy="342.4" r="3.04" fill="url(#gO)"/>
<circle cx="390.3" cy="360.1" r="3.04" fill="url(#gO)"/>
<circle cx="401.9" cy="360.3" r="3.04" fill="url(#gO)"/>
<circle cx="408.8" cy="355.7" r="3.04" fill="url(#gO)"/>
<circle cx="412.0" cy="345.4" r="3.04" fill="url(#gO)"/>
<line x1="425.0" y1="327.9" x2="436.7" y2="328.3" stroke="#aaa" stroke-width="1"/>
<line x1="436.7" y1="328.3" x2="441.5" y2="319.8" stroke="#aaa" stroke-width="1"/>
<line x1="436.7" y1="328.3" x2="441.1" y2="336.3" stroke="#aaa" stroke-width="1"/>
<line x1="461.2" y1="320.6" x2="462.4" y2="330.7" stroke="#aaa" stroke-width="1"/>
<line x1="462.4" y1="330.7" x2="456.4" y2="336.3" stroke="#aaa" stroke-width="1"/>
<line x1="425.0" y1="327.9" x2="422.4" y2="320.9" stroke="#aaa" stroke-width="1"/>
<line x1="425.0" y1="327.9" x2="419.6" y2="328.3" stroke="#aaa" stroke-width="1"/>
<line x1="425.0" y1="327.9" x2="422.0" y2="335.1" stroke="#aaa" stroke-width="1"/>
<line x1="441.5" y1="319.8" x2="452.3" y2="320.4" stroke="#777" stroke-width="0.9" stroke-dasharray="1.2 1"/>
<line x1="452.3" y1="320.4" x2="461.2" y2="320.6" stroke="#777" stroke-width="0.9" stroke-dasharray="1.2 1"/>
<line x1="441.1" y1="336.3" x2="456.4" y2="336.3" stroke="#777" stroke-width="0.9" stroke-dasharray="1.2 1"/>
<circle cx="452.3" cy="320.4" r="2.29" fill="url(#gH)"/>
<circle cx="422.4" cy="320.9" r="2.29" fill="url(#gH)"/>
<circle cx="419.6" cy="328.3" r="2.29" fill="url(#gH)"/>
<circle cx="422.0" cy="335.1" r="2.29" fill="url(#gH)"/>
<circle cx="425.0" cy="327.9" r="3.31" fill="url(#gC)"/>
<circle cx="436.7" cy="328.3" r="3.31" fill="url(#gC)"/>
<circle cx="441.5" cy="319.8" r="3.23" fill="url(#gO)"/>
<circle cx="461.2" cy="320.6" r="3.23" fill="url(#gO)"/>
<circle cx="462.4" cy="330.7" r="3.23" fill="url(#gO)"/>
<circle cx="456.4" cy="336.3" r="3.23" fill="url(#gO)"/>
<circle cx="441.1" cy="336.3" r="3.23" fill="url(#gO)"/>
<line x1="537.7" y1="206.2" x2="541.9" y2="206.9" stroke="#aaa" stroke-width="1"/>
<line x1="537.7" y1="206.2" x2="532.5" y2="213.6" stroke="#aaa" stroke-width="1"/>
<line x1="541.9" y1="206.9" x2="544.4" y2="214.4" stroke="#aaa" stroke-width="1"/>
<line x1="544.4" y1="214.4" x2="545.1" y2="223.5" stroke="#aaa" stroke-width="1"/>
<line x1="545.1" y1="223.5" x2="539.9" y2="231.5" stroke="#aaa" stroke-width="1"/>
<line x1="539.9" y1="231.5" x2="529.5" y2="231.5" stroke="#aaa" stroke-width="1"/>
<line x1="539.9" y1="231.5" x2="545.6" y2="238.9" stroke="#aaa" stroke-width="1"/>
<line x1="529.5" y1="231.5" x2="527.4" y2="225.9" stroke="#aaa" stroke-width="1"/>
<line x1="529.5" y1="231.5" x2="525.2" y2="231.8" stroke="#aaa" stroke-width="1"/>
<line x1="529.5" y1="231.5" x2="527.1" y2="237.3" stroke="#aaa" stroke-width="1"/>
<circle cx="544.4" cy="214.4" r="2.05" fill="url(#gH)"/>
<circle cx="527.4" cy="225.9" r="2.05" fill="url(#gH)"/>
<circle cx="525.2" cy="231.8" r="2.05" fill="url(#gH)"/>
<circle cx="527.1" cy="237.3" r="2.05" fill="url(#gH)"/>
<circle cx="539.9" cy="231.5" r="2.96" fill="url(#gC)"/>
<circle cx="529.5" cy="231.5" r="2.96" fill="url(#gC)"/>
<circle cx="537.7" cy="206.2" r="2.89" fill="url(#gO)"/>
<circle cx="541.9" cy="206.9" r="2.89" fill="url(#gO)"/>
<circle cx="532.5" cy="213.6" r="2.89" fill="url(#gO)"/>
<circle cx="545.1" cy="223.5" r="2.89" fill="url(#gO)"/>
<circle cx="545.6" cy="238.9" r="2.89" fill="url(#gO)"/>
<line x1="565.5" y1="250.8" x2="574.6" y2="250.8" stroke="#aaa" stroke-width="1"/>
<line x1="574.6" y1="250.8" x2="580.8" y2="243.9" stroke="#aaa" stroke-width="1"/>
<line x1="574.6" y1="250.8" x2="580.8" y2="258.3" stroke="#aaa" stroke-width="1"/>
<line x1="592.8" y1="243.9" x2="599.0" y2="243.9" stroke="#aaa" stroke-width="1"/>
<line x1="599.0" y1="243.9" x2="600.2" y2="255.0" stroke="#aaa" stroke-width="1"/>
<line x1="600.2" y1="255.0" x2="608.4" y2="257.0" stroke="#aaa" stroke-width="1"/>
<line x1="565.5" y1="250.8" x2="563.4" y2="245.2" stroke="#aaa" stroke-width="1"/>
<line x1="565.5" y1="250.8" x2="561.2" y2="251.1" stroke="#aaa" stroke-width="1"/>
<line x1="565.5" y1="250.8" x2="563.1" y2="256.6" stroke="#aaa" stroke-width="1"/>
<circle cx="592.8" cy="243.9" r="2.05" fill="url(#gH)"/>
<circle cx="563.4" cy="245.2" r="2.05" fill="url(#gH)"/>
<circle cx="561.2" cy="251.1" r="2.05" fill="url(#gH)"/>
<circle cx="563.1" cy="256.6" r="2.05" fill="url(#gH)"/>
<circle cx="565.5" cy="250.8" r="2.96" fill="url(#gC)"/>
<circle cx="574.6" cy="250.8" r="2.96" fill="url(#gC)"/>
<circle cx="580.8" cy="243.9" r="2.89" fill="url(#gO)"/>
<circle cx="580.8" cy="258.3" r="2.89" fill="url(#gO)"/>
<circle cx="599.0" cy="243.9" r="2.89" fill="url(#gO)"/>
<circle cx="600.2" cy="255.0" r="2.89" fill="url(#gO)"/>
<circle cx="608.4" cy="257.0" r="2.89" fill="url(#gO)"/>
<text x="589.0" y="254.6" font-size="9.5" text-anchor="middle" fill="#222" font-weight="bold">+</text>
<line x1="515.5" y1="298.9" x2="526.1" y2="298.9" stroke="#aaa" stroke-width="1"/>
<line x1="526.1" y1="298.9" x2="531.2" y2="291.9" stroke="#aaa" stroke-width="1"/>
<line x1="526.1" y1="298.9" x2="531.2" y2="305.8" stroke="#aaa" stroke-width="1"/>
<line x1="548.0" y1="294.1" x2="553.4" y2="296.3" stroke="#aaa" stroke-width="1"/>
<line x1="553.4" y1="296.3" x2="549.8" y2="305.4" stroke="#aaa" stroke-width="1"/>
<line x1="549.8" y1="305.4" x2="541.4" y2="305.4" stroke="#aaa" stroke-width="1"/>
<line x1="515.5" y1="298.9" x2="512.9" y2="293.0" stroke="#aaa" stroke-width="1"/>
<line x1="515.5" y1="298.9" x2="511.5" y2="299.0" stroke="#aaa" stroke-width="1"/>
<line x1="515.5" y1="298.9" x2="512.9" y2="305.1" stroke="#aaa" stroke-width="1"/>
<circle cx="548.0" cy="294.1" r="2.00" fill="url(#gH)"/>
<circle cx="512.9" cy="293.0" r="2.00" fill="url(#gH)"/>
<circle cx="511.5" cy="299.0" r="2.00" fill="url(#gH)"/>
<circle cx="512.9" cy="305.1" r="2.00" fill="url(#gH)"/>
<circle cx="515.5" cy="298.9" r="2.89" fill="url(#gC)"/>
<circle cx="526.1" cy="298.9" r="2.89" fill="url(#gC)"/>
<circle cx="531.2" cy="291.9" r="2.81" fill="url(#gO)"/>
<circle cx="531.2" cy="305.8" r="2.81" fill="url(#gO)"/>
<circle cx="553.4" cy="296.3" r="2.81" fill="url(#gO)"/>
<circle cx="549.8" cy="305.4" r="2.81" fill="url(#gO)"/>
<circle cx="541.4" cy="305.4" r="2.81" fill="url(#gO)"/>
<text x="537.4" y="303.0" font-size="9.5" text-anchor="middle" fill="#222" font-weight="bold">+</text>
<line x1="57.8" y1="441.5" x2="229.9" y2="441.5" stroke="#4a4a4a" stroke-width="1"/>
<line x1="57.8" y1="612.5" x2="229.9" y2="612.5" stroke="#4a4a4a" stroke-width="1"/>
<line x1="58.3" y1="441.5" x2="58.3" y2="612.5" stroke="#707070" stroke-width="1"/>
<line x1="229.4" y1="441.5" x2="229.4" y2="612.5" stroke="#707070" stroke-width="1"/>
<line x1="55.3" y1="441.5" x2="58.3" y2="441.5" stroke="#444" stroke-width="0.9"/>
<text x="52.8" y="446.3" font-size="12" text-anchor="end" fill="#111" textLength="32.6" lengthAdjust="spacingAndGlyphs">1×10<tspan font-size="8" dy="-5">-10</tspan></text>
<line x1="56.5" y1="494.3" x2="58.3" y2="494.3" stroke="#444" stroke-width="0.9"/>
<line x1="56.5" y1="481.0" x2="58.3" y2="481.0" stroke="#444" stroke-width="0.9"/>
<line x1="56.5" y1="471.6" x2="58.3" y2="471.6" stroke="#444" stroke-width="0.9"/>
<line x1="56.5" y1="464.3" x2="58.3" y2="464.3" stroke="#444" stroke-width="0.9"/>
<line x1="56.5" y1="458.3" x2="58.3" y2="458.3" stroke="#444" stroke-width="0.9"/>
<line x1="56.5" y1="453.2" x2="58.3" y2="453.2" stroke="#444" stroke-width="0.9"/>
<line x1="56.5" y1="448.8" x2="58.3" y2="448.8" stroke="#444" stroke-width="0.9"/>
<line x1="56.5" y1="445.0" x2="58.3" y2="445.0" stroke="#444" stroke-width="0.9"/>
<line x1="55.3" y1="517.1" x2="58.3" y2="517.1" stroke="#444" stroke-width="0.9"/>
<text x="52.8" y="521.9" font-size="12" text-anchor="end" fill="#111" textLength="32.6" lengthAdjust="spacingAndGlyphs">1×10<tspan font-size="8" dy="-5">-11</tspan></text>
<line x1="56.5" y1="569.9" x2="58.3" y2="569.9" stroke="#444" stroke-width="0.9"/>
<line x1="56.5" y1="556.6" x2="58.3" y2="556.6" stroke="#444" stroke-width="0.9"/>
<line x1="56.5" y1="547.2" x2="58.3" y2="547.2" stroke="#444" stroke-width="0.9"/>
<line x1="56.5" y1="539.9" x2="58.3" y2="539.9" stroke="#444" stroke-width="0.9"/>
<line x1="56.5" y1="533.9" x2="58.3" y2="533.9" stroke="#444" stroke-width="0.9"/>
<line x1="56.5" y1="528.8" x2="58.3" y2="528.8" stroke="#444" stroke-width="0.9"/>
<line x1="56.5" y1="524.4" x2="58.3" y2="524.4" stroke="#444" stroke-width="0.9"/>
<line x1="56.5" y1="520.6" x2="58.3" y2="520.6" stroke="#444" stroke-width="0.9"/>
<line x1="55.3" y1="592.7" x2="58.3" y2="592.7" stroke="#444" stroke-width="0.9"/>
<text x="52.8" y="597.5" font-size="12" text-anchor="end" fill="#111" textLength="32.6" lengthAdjust="spacingAndGlyphs">1×10<tspan font-size="8" dy="-5">-12</tspan></text>
<line x1="56.5" y1="609.5" x2="58.3" y2="609.5" stroke="#444" stroke-width="0.9"/>
<line x1="56.5" y1="604.4" x2="58.3" y2="604.4" stroke="#444" stroke-width="0.9"/>
<line x1="56.5" y1="600.0" x2="58.3" y2="600.0" stroke="#444" stroke-width="0.9"/>
<line x1="56.5" y1="596.2" x2="58.3" y2="596.2" stroke="#444" stroke-width="0.9"/>
<line x1="72.6" y1="612.5" x2="72.6" y2="615.5" stroke="#444" stroke-width="0.9"/>
<text x="72.6" y="625.8" font-size="11.5" text-anchor="middle" fill="#111">250</text>
<line x1="101.1" y1="612.5" x2="101.1" y2="615.5" stroke="#444" stroke-width="0.9"/>
<text x="101.1" y="625.8" font-size="11.5" text-anchor="middle" fill="#111">260</text>
<line x1="129.6" y1="612.5" x2="129.6" y2="615.5" stroke="#444" stroke-width="0.9"/>
<text x="129.6" y="625.8" font-size="11.5" text-anchor="middle" fill="#111">270</text>
<line x1="158.1" y1="612.5" x2="158.1" y2="615.5" stroke="#444" stroke-width="0.9"/>
<text x="158.1" y="625.8" font-size="11.5" text-anchor="middle" fill="#111">280</text>
<line x1="186.6" y1="612.5" x2="186.6" y2="615.5" stroke="#444" stroke-width="0.9"/>
<text x="186.6" y="625.8" font-size="11.5" text-anchor="middle" fill="#111">290</text>
<line x1="215.2" y1="612.5" x2="215.2" y2="615.5" stroke="#444" stroke-width="0.9"/>
<text x="215.2" y="625.8" font-size="11.5" text-anchor="middle" fill="#111">300</text>
<line x1="86.8" y1="612.5" x2="86.8" y2="614.3" stroke="#444" stroke-width="0.9"/>
<line x1="115.3" y1="612.5" x2="115.3" y2="614.3" stroke="#444" stroke-width="0.9"/>
<line x1="143.9" y1="612.5" x2="143.9" y2="614.3" stroke="#444" stroke-width="0.9"/>
<line x1="172.4" y1="612.5" x2="172.4" y2="614.3" stroke="#444" stroke-width="0.9"/>
<line x1="200.9" y1="612.5" x2="200.9" y2="614.3" stroke="#444" stroke-width="0.9"/>
<line x1="229.4" y1="612.5" x2="229.4" y2="614.3" stroke="#444" stroke-width="0.9"/>
<text x="143.8" y="642.5" font-size="13" text-anchor="middle" fill="#111">Temperature (K)</text>
<text transform="translate(10.8,524.1) rotate(-90)" font-size="13.5" text-anchor="middle" fill="#111"><tspan font-style="italic">k</tspan> (cm<tspan font-size="9" dy="-5">3</tspan><tspan dy="5"> molecule</tspan><tspan font-size="9" dy="-5">-1</tspan><tspan dy="5"> s</tspan><tspan font-size="9" dy="-5">-1</tspan><tspan dy="5">)</tspan></text>
<text x="75.0" y="463.5" font-size="19.5" text-anchor="middle" fill="#111">(c)</text>
<polyline points="72.5,497.6 215.0,529.2" fill="none" stroke="#1766dc" stroke-width="1.2" stroke-linejoin="round"/>
<polyline points="72.5,522.6 215.0,548.1" fill="none" stroke="#e93a42" stroke-width="1.2" stroke-linejoin="round"/>
<polyline points="72.5,556.4 215.0,576.0" fill="none" stroke="#e93a42" stroke-width="1.2" stroke-dasharray="4 5" stroke-linejoin="round"/>
<polyline points="72.5,591.7 215.0,608.0" fill="none" stroke="#1766dc" stroke-width="1.2" stroke-dasharray="4 5" stroke-linejoin="round"/>
<line x1="73.9" y1="484.9" x2="73.9" y2="505.7" stroke="#1766dc" stroke-width="0.8"/>
<line x1="72.4" y1="484.9" x2="75.4" y2="484.9" stroke="#1766dc" stroke-width="0.8"/>
<line x1="72.4" y1="505.7" x2="75.4" y2="505.7" stroke="#1766dc" stroke-width="0.8"/>
<circle cx="73.9" cy="493.7" r="2.9" fill="#1766dc"/>
<line x1="99" y1="491.9" x2="99" y2="512.7" stroke="#1766dc" stroke-width="0.8"/>
<line x1="97.5" y1="491.9" x2="100.5" y2="491.9" stroke="#1766dc" stroke-width="0.8"/>
<line x1="97.5" y1="512.7" x2="100.5" y2="512.7" stroke="#1766dc" stroke-width="0.8"/>
<circle cx="99" cy="500.7" r="2.9" fill="#1766dc"/>
<line x1="131.1" y1="499.2" x2="131.1" y2="520.0" stroke="#1766dc" stroke-width="0.8"/>
<line x1="129.6" y1="499.2" x2="132.6" y2="499.2" stroke="#1766dc" stroke-width="0.8"/>
<line x1="129.6" y1="520.0" x2="132.6" y2="520.0" stroke="#1766dc" stroke-width="0.8"/>
<circle cx="131.1" cy="508" r="2.9" fill="#1766dc"/>
<line x1="158.1" y1="500.9" x2="158.1" y2="521.7" stroke="#1766dc" stroke-width="0.8"/>
<line x1="156.6" y1="500.9" x2="159.6" y2="500.9" stroke="#1766dc" stroke-width="0.8"/>
<line x1="156.6" y1="521.7" x2="159.6" y2="521.7" stroke="#1766dc" stroke-width="0.8"/>
<circle cx="158.1" cy="509.7" r="2.9" fill="#1766dc"/>
<line x1="193.6" y1="502.3" x2="193.6" y2="523.1" stroke="#1766dc" stroke-width="0.8"/>
<line x1="192.1" y1="502.3" x2="195.1" y2="502.3" stroke="#1766dc" stroke-width="0.8"/>
<line x1="192.1" y1="523.1" x2="195.1" y2="523.1" stroke="#1766dc" stroke-width="0.8"/>
<circle cx="193.6" cy="511.1" r="2.9" fill="#1766dc"/>
<line x1="197.7" y1="500.9" x2="197.7" y2="521.7" stroke="#1766dc" stroke-width="0.8"/>
<line x1="196.2" y1="500.9" x2="199.2" y2="500.9" stroke="#1766dc" stroke-width="0.8"/>
<line x1="196.2" y1="521.7" x2="199.2" y2="521.7" stroke="#1766dc" stroke-width="0.8"/>
<circle cx="197.7" cy="509.7" r="2.9" fill="#1766dc"/>
<line x1="73.9" y1="521.6" x2="73.9" y2="542.1" stroke="#e93a42" stroke-width="0.8"/>
<line x1="72.4" y1="521.6" x2="75.4" y2="521.6" stroke="#e93a42" stroke-width="0.8"/>
<line x1="72.4" y1="542.1" x2="75.4" y2="542.1" stroke="#e93a42" stroke-width="0.8"/>
<rect x="71.5" y="528.1" width="4.8" height="4.8" fill="#e93a42"/>
<line x1="98.5" y1="520.4" x2="98.5" y2="540.9" stroke="#e93a42" stroke-width="0.8"/>
<line x1="97.0" y1="520.4" x2="100.0" y2="520.4" stroke="#e93a42" stroke-width="0.8"/>
<line x1="97.0" y1="540.9" x2="100.0" y2="540.9" stroke="#e93a42" stroke-width="0.8"/>
<rect x="96.1" y="526.9" width="4.8" height="4.8" fill="#e93a42"/>
<line x1="131.1" y1="524.8" x2="131.1" y2="545.3" stroke="#e93a42" stroke-width="0.8"/>
<line x1="129.6" y1="524.8" x2="132.6" y2="524.8" stroke="#e93a42" stroke-width="0.8"/>
<line x1="129.6" y1="545.3" x2="132.6" y2="545.3" stroke="#e93a42" stroke-width="0.8"/>
<rect x="128.7" y="531.3" width="4.8" height="4.8" fill="#e93a42"/>
<line x1="158.1" y1="528.7" x2="158.1" y2="549.2" stroke="#e93a42" stroke-width="0.8"/>
<line x1="156.6" y1="528.7" x2="159.6" y2="528.7" stroke="#e93a42" stroke-width="0.8"/>
<line x1="156.6" y1="549.2" x2="159.6" y2="549.2" stroke="#e93a42" stroke-width="0.8"/>
<rect x="155.7" y="535.2" width="4.8" height="4.8" fill="#e93a42"/>
<line x1="194.1" y1="526.3" x2="194.1" y2="546.8" stroke="#e93a42" stroke-width="0.8"/>
<line x1="192.6" y1="526.3" x2="195.6" y2="526.3" stroke="#e93a42" stroke-width="0.8"/>
<line x1="192.6" y1="546.8" x2="195.6" y2="546.8" stroke="#e93a42" stroke-width="0.8"/>
<rect x="191.7" y="532.8" width="4.8" height="4.8" fill="#e93a42"/>
<line x1="198.4" y1="531.1" x2="198.4" y2="551.6" stroke="#e93a42" stroke-width="0.8"/>
<line x1="196.9" y1="531.1" x2="199.9" y2="531.1" stroke="#e93a42" stroke-width="0.8"/>
<line x1="196.9" y1="551.6" x2="199.9" y2="551.6" stroke="#e93a42" stroke-width="0.8"/>
<rect x="196.0" y="537.6" width="4.8" height="4.8" fill="#e93a42"/>
<text x="76.2" y="483.5" font-size="11" text-anchor="middle" fill="#1766dc">k (b+c)</text>
<text x="74.5" y="518.7" font-size="11" text-anchor="middle" fill="#e93a42">k (a)</text>
<rect x="101.8" y="446.9" width="4.6" height="4.6" fill="#e93a42"/>
<circle cx="127.1" cy="449.2" r="2.7" fill="#1766dc"/>
<text x="142.0" y="452.6" font-size="10.0" text-anchor="start" fill="#111">Experiment</text>
<polyline points="92.0,462.0 116.0,462.0" fill="none" stroke="#e93a42" stroke-width="1.1" stroke-dasharray="4.5 5.5" stroke-linejoin="round"/>
<polyline points="117.0,462.0 140.0,462.0" fill="none" stroke="#1766dc" stroke-width="1.1" stroke-dasharray="4.5 5.5" stroke-linejoin="round"/>
<text x="142.0" y="465.2" font-size="10.0" text-anchor="start" fill="#111">Prediction</text>
<polyline points="92.0,475.5 115.7,475.5" fill="none" stroke="#e93a42" stroke-width="1.1" stroke-linejoin="round"/>
<text x="119.0" y="478.8" font-size="10.0" text-anchor="start" fill="#111">Prediction (-0.5 kcal mol<tspan font-size="7.5" dy="-4">-1</tspan><tspan dy="4">)</tspan></text>
<polyline points="92.0,489.3 115.7,489.3" fill="none" stroke="#1766dc" stroke-width="1.1" stroke-linejoin="round"/>
<text x="119.0" y="492.6" font-size="10.0" text-anchor="start" fill="#111">Prediction (-1.4 kcal mol<tspan font-size="7.5" dy="-4">-1</tspan><tspan dy="4">)</tspan></text>
<line x1="278.0" y1="441.5" x2="450.1" y2="441.5" stroke="#4a4a4a" stroke-width="1"/>
<line x1="278.0" y1="612.5" x2="450.1" y2="612.5" stroke="#4a4a4a" stroke-width="1"/>
<line x1="278.5" y1="441.5" x2="278.5" y2="612.5" stroke="#707070" stroke-width="1"/>
<line x1="449.6" y1="441.5" x2="449.6" y2="612.5" stroke="#707070" stroke-width="1"/>
<line x1="275.5" y1="595.4" x2="278.5" y2="595.4" stroke="#444" stroke-width="0.9"/>
<text x="273.9" y="598.7" font-size="11.5" text-anchor="end" fill="#111">0.0</text>
<line x1="275.5" y1="561.2" x2="278.5" y2="561.2" stroke="#444" stroke-width="0.9"/>
<text x="273.9" y="564.5" font-size="11.5" text-anchor="end" fill="#111">0.2</text>
<line x1="275.5" y1="526.9" x2="278.5" y2="526.9" stroke="#444" stroke-width="0.9"/>
<text x="273.9" y="530.2" font-size="11.5" text-anchor="end" fill="#111">0.4</text>
<line x1="275.5" y1="492.7" x2="278.5" y2="492.7" stroke="#444" stroke-width="0.9"/>
<text x="273.9" y="496.0" font-size="11.5" text-anchor="end" fill="#111">0.6</text>
<line x1="275.5" y1="458.4" x2="278.5" y2="458.4" stroke="#444" stroke-width="0.9"/>
<text x="273.9" y="461.7" font-size="11.5" text-anchor="end" fill="#111">0.8</text>
<line x1="276.7" y1="578.3" x2="278.5" y2="578.3" stroke="#444" stroke-width="0.9"/>
<line x1="276.7" y1="544.0" x2="278.5" y2="544.0" stroke="#444" stroke-width="0.9"/>
<line x1="276.7" y1="509.8" x2="278.5" y2="509.8" stroke="#444" stroke-width="0.9"/>
<line x1="276.7" y1="475.6" x2="278.5" y2="475.6" stroke="#444" stroke-width="0.9"/>
<line x1="289.2" y1="612.5" x2="289.2" y2="615.5" stroke="#444" stroke-width="0.9"/>
<text x="289.2" y="626.3" font-size="11.5" text-anchor="middle" fill="#111">300</text>
<line x1="310.6" y1="612.5" x2="310.6" y2="615.5" stroke="#444" stroke-width="0.9"/>
<text x="310.6" y="626.3" font-size="11.5" text-anchor="middle" fill="#111">400</text>
<line x1="331.9" y1="612.5" x2="331.9" y2="615.5" stroke="#444" stroke-width="0.9"/>
<text x="331.9" y="626.3" font-size="11.5" text-anchor="middle" fill="#111">500</text>
<line x1="353.3" y1="612.5" x2="353.3" y2="615.5" stroke="#444" stroke-width="0.9"/>
<text x="353.3" y="626.3" font-size="11.5" text-anchor="middle" fill="#111">600</text>
<line x1="374.7" y1="612.5" x2="374.7" y2="615.5" stroke="#444" stroke-width="0.9"/>
<text x="374.7" y="626.3" font-size="11.5" text-anchor="middle" fill="#111">700</text>
<line x1="396.1" y1="612.5" x2="396.1" y2="615.5" stroke="#444" stroke-width="0.9"/>
<text x="396.1" y="626.3" font-size="11.5" text-anchor="middle" fill="#111">800</text>
<line x1="417.4" y1="612.5" x2="417.4" y2="615.5" stroke="#444" stroke-width="0.9"/>
<text x="417.4" y="626.3" font-size="11.5" text-anchor="middle" fill="#111">900</text>
<line x1="438.8" y1="612.5" x2="438.8" y2="615.5" stroke="#444" stroke-width="0.9"/>
<text x="438.8" y="626.3" font-size="11.5" text-anchor="middle" fill="#111">1000</text>
<line x1="299.9" y1="612.5" x2="299.9" y2="614.3" stroke="#444" stroke-width="0.9"/>
<line x1="321.2" y1="612.5" x2="321.2" y2="614.3" stroke="#444" stroke-width="0.9"/>
<line x1="342.6" y1="612.5" x2="342.6" y2="614.3" stroke="#444" stroke-width="0.9"/>
<line x1="364.0" y1="612.5" x2="364.0" y2="614.3" stroke="#444" stroke-width="0.9"/>
<line x1="385.4" y1="612.5" x2="385.4" y2="614.3" stroke="#444" stroke-width="0.9"/>
<line x1="406.8" y1="612.5" x2="406.8" y2="614.3" stroke="#444" stroke-width="0.9"/>
<line x1="428.1" y1="612.5" x2="428.1" y2="614.3" stroke="#444" stroke-width="0.9"/>
<text x="364.1" y="642.3" font-size="13" text-anchor="middle" fill="#111">Temperature (K)</text>
<text transform="translate(253.2,526.5) rotate(-90)" font-size="13.5" textLength="97.5" lengthAdjust="spacingAndGlyphs" text-anchor="middle" fill="#111">Branching fraction</text>
<text x="297.0" y="463.5" font-size="19.5" text-anchor="middle" fill="#111">(d)</text>
<text x="434.3" y="484.4" font-size="13" text-anchor="end" fill="#e93a42" font-weight="bold">Path a</text>
<text x="399.7" y="560.7" font-size="13" text-anchor="end" fill="#1766dc" font-weight="bold">Path c</text>
<text x="439.0" y="607.9" font-size="13" text-anchor="end" fill="#1766dc" font-weight="bold">Path b</text>
<line x1="498.7" y1="441.5" x2="670.8" y2="441.5" stroke="#4a4a4a" stroke-width="1"/>
<line x1="498.7" y1="612.5" x2="670.8" y2="612.5" stroke="#4a4a4a" stroke-width="1"/>
<line x1="499.2" y1="441.5" x2="499.2" y2="612.5" stroke="#707070" stroke-width="1"/>
<line x1="670.3" y1="441.5" x2="670.3" y2="612.5" stroke="#707070" stroke-width="1"/>
<line x1="496.2" y1="595.4" x2="499.2" y2="595.4" stroke="#444" stroke-width="0.9"/>
<text x="494.6" y="598.7" font-size="11.5" text-anchor="end" fill="#111">0.0</text>
<line x1="496.2" y1="561.2" x2="499.2" y2="561.2" stroke="#444" stroke-width="0.9"/>
<text x="494.6" y="564.5" font-size="11.5" text-anchor="end" fill="#111">0.2</text>
<line x1="496.2" y1="526.9" x2="499.2" y2="526.9" stroke="#444" stroke-width="0.9"/>
<text x="494.6" y="530.2" font-size="11.5" text-anchor="end" fill="#111">0.4</text>
<line x1="496.2" y1="492.7" x2="499.2" y2="492.7" stroke="#444" stroke-width="0.9"/>
<text x="494.6" y="496.0" font-size="11.5" text-anchor="end" fill="#111">0.6</text>
<line x1="496.2" y1="458.4" x2="499.2" y2="458.4" stroke="#444" stroke-width="0.9"/>
<text x="494.6" y="461.7" font-size="11.5" text-anchor="end" fill="#111">0.8</text>
<line x1="497.4" y1="578.3" x2="499.2" y2="578.3" stroke="#444" stroke-width="0.9"/>
<line x1="497.4" y1="544.0" x2="499.2" y2="544.0" stroke="#444" stroke-width="0.9"/>
<line x1="497.4" y1="509.8" x2="499.2" y2="509.8" stroke="#444" stroke-width="0.9"/>
<line x1="497.4" y1="475.6" x2="499.2" y2="475.6" stroke="#444" stroke-width="0.9"/>
<line x1="509.9" y1="612.5" x2="509.9" y2="615.5" stroke="#444" stroke-width="0.9"/>
<text x="509.9" y="626.3" font-size="11.5" text-anchor="middle" fill="#111">300</text>
<line x1="531.3" y1="612.5" x2="531.3" y2="615.5" stroke="#444" stroke-width="0.9"/>
<text x="531.3" y="626.3" font-size="11.5" text-anchor="middle" fill="#111">400</text>
<line x1="552.6" y1="612.5" x2="552.6" y2="615.5" stroke="#444" stroke-width="0.9"/>
<text x="552.6" y="626.3" font-size="11.5" text-anchor="middle" fill="#111">500</text>
<line x1="574.0" y1="612.5" x2="574.0" y2="615.5" stroke="#444" stroke-width="0.9"/>
<text x="574.0" y="626.3" font-size="11.5" text-anchor="middle" fill="#111">600</text>
<line x1="595.4" y1="612.5" x2="595.4" y2="615.5" stroke="#444" stroke-width="0.9"/>
<text x="595.4" y="626.3" font-size="11.5" text-anchor="middle" fill="#111">700</text>
<line x1="616.8" y1="612.5" x2="616.8" y2="615.5" stroke="#444" stroke-width="0.9"/>
<text x="616.8" y="626.3" font-size="11.5" text-anchor="middle" fill="#111">800</text>
<line x1="638.1" y1="612.5" x2="638.1" y2="615.5" stroke="#444" stroke-width="0.9"/>
<text x="638.1" y="626.3" font-size="11.5" text-anchor="middle" fill="#111">900</text>
<line x1="659.5" y1="612.5" x2="659.5" y2="615.5" stroke="#444" stroke-width="0.9"/>
<text x="659.5" y="626.3" font-size="11.5" text-anchor="middle" fill="#111">1000</text>
<line x1="520.6" y1="612.5" x2="520.6" y2="614.3" stroke="#444" stroke-width="0.9"/>
<line x1="542.0" y1="612.5" x2="542.0" y2="614.3" stroke="#444" stroke-width="0.9"/>
<line x1="563.3" y1="612.5" x2="563.3" y2="614.3" stroke="#444" stroke-width="0.9"/>
<line x1="584.7" y1="612.5" x2="584.7" y2="614.3" stroke="#444" stroke-width="0.9"/>
<line x1="606.1" y1="612.5" x2="606.1" y2="614.3" stroke="#444" stroke-width="0.9"/>
<line x1="627.5" y1="612.5" x2="627.5" y2="614.3" stroke="#444" stroke-width="0.9"/>
<line x1="648.8" y1="612.5" x2="648.8" y2="614.3" stroke="#444" stroke-width="0.9"/>
<text x="584.8" y="642.3" font-size="13" text-anchor="middle" fill="#111">Temperature (K)</text>
<text transform="translate(473.9,526.5) rotate(-90)" font-size="13.5" textLength="97.5" lengthAdjust="spacingAndGlyphs" text-anchor="middle" fill="#111">Branching fraction</text>
<text x="515.6" y="463.5" font-size="19.5" text-anchor="middle" fill="#111">(e)</text>
<text x="657.9" y="469.5" font-size="13" text-anchor="end" fill="#e93a42" font-weight="bold">Path a</text>
<text x="644.4" y="563.0" font-size="13" text-anchor="end" fill="#1766dc" font-weight="bold">Path c</text>
<text x="665.7" y="607.9" font-size="13" text-anchor="end" fill="#1766dc" font-weight="bold">Path b</text>
<polyline points="289.4,526.9 290.2,526.4 291.1,525.8 292.2,525.1 293.5,524.4 294.9,523.5 296.3,522.6 297.8,521.7 299.3,520.8 300.8,519.9 302.2,519.0 303.6,518.2 304.8,517.5 305.9,516.8 307.0,516.2 308.1,515.7 309.2,515.1 310.2,514.6 311.2,514.0 312.2,513.5 313.2,513.0 314.2,512.5 315.2,511.9 316.2,511.4 317.2,510.8 318.2,510.2 319.3,509.6 320.3,509.0 321.3,508.4 322.4,507.8 323.4,507.1 324.4,506.5 325.5,505.9 326.5,505.3 327.5,504.6 328.6,504.0 329.6,503.4 330.6,502.8 331.7,502.1 332.7,501.5 333.7,500.9 334.8,500.3 335.8,499.6 336.8,499.0 337.9,498.4 338.9,497.7 339.9,497.1 341.0,496.5 342.0,495.9 343.0,495.3 344.1,494.7 345.1,494.1 346.2,493.5 347.2,493.0 348.3,492.4 349.3,491.8 350.3,491.3 351.4,490.7 352.4,490.1 353.5,489.6 354.5,489.0 355.5,488.4 356.6,487.9 357.6,487.3 358.6,486.7 359.7,486.1 360.7,485.5 361.7,485.0 362.8,484.4 363.8,483.9 364.8,483.3 365.9,482.8 366.9,482.3 367.9,481.8 369.0,481.4 370.0,480.9 371.0,480.5 372.1,480.1 373.1,479.6 374.1,479.2 375.2,478.8 376.2,478.5 377.2,478.1 378.3,477.7 379.3,477.3 380.3,476.9 381.4,476.5 382.4,476.2 383.4,475.8 384.5,475.4 385.5,475.1 386.5,474.7 387.6,474.4 388.6,474.1 389.6,473.7 390.7,473.4 391.7,473.1 392.7,472.8 393.8,472.5 394.8,472.2 395.8,472.0 396.9,471.7 397.9,471.4 398.9,471.2 400.0,470.9 401.0,470.7 402.0,470.4 403.1,470.2 404.1,469.9 405.1,469.6 406.2,469.4 407.2,469.1 408.2,468.8 409.3,468.6 410.3,468.3 411.3,468.1 412.4,467.8 413.4,467.6 414.4,467.3 415.5,467.1 416.5,466.9 417.5,466.7 418.6,466.5 419.6,466.3 420.7,466.1 421.8,466.0 422.8,465.8 423.9,465.6 424.9,465.5 425.9,465.3 426.9,465.2 427.9,465.0 428.9,464.9 429.9,464.8 430.9,464.6 431.9,464.5 432.9,464.4 433.9,464.3 434.9,464.2 435.8,464.1 436.7,464.0 437.5,463.9 438.2,463.8 438.8,463.8 439.3,463.7" fill="none" stroke="#e93a42" stroke-width="1.2" stroke-linejoin="round"/>
<polyline points="289.4,534.4 289.9,534.3 290.5,534.2 291.1,534.1 291.9,533.9 292.7,533.8 293.6,533.6 294.5,533.4 295.5,533.3 296.6,533.1 297.6,533.0 298.8,532.8 299.9,532.7 301.1,532.6 302.4,532.5 303.9,532.4 305.3,532.3 306.9,532.2 308.4,532.1 310.0,532.1 311.5,532.0 313.1,532.0 314.5,531.9 315.9,531.9 317.2,531.9 318.4,531.9 319.6,531.9 320.6,531.9 321.7,532.0 322.7,532.0 323.7,532.1 324.7,532.1 325.6,532.2 326.6,532.3 327.6,532.4 328.6,532.6 329.6,532.7 330.6,532.9 331.7,533.0 332.7,533.2 333.7,533.5 334.8,533.7 335.8,533.9 336.8,534.2 337.9,534.5 338.9,534.7 339.9,535.0 341.0,535.3 342.0,535.6 343.0,535.9 344.1,536.2 345.1,536.6 346.2,536.9 347.2,537.3 348.3,537.6 349.3,538.0 350.3,538.4 351.4,538.7 352.4,539.1 353.5,539.5 354.5,539.8 355.5,540.1 356.6,540.5 357.6,540.8 358.6,541.2 359.7,541.5 360.7,541.8 361.7,542.2 362.8,542.5 363.8,542.8 364.8,543.2 365.9,543.5 366.9,543.8 367.9,544.1 369.0,544.4 370.0,544.7 371.0,545.0 372.1,545.3 373.1,545.6 374.1,545.9 375.2,546.2 376.2,546.5 377.2,546.8 378.3,547.0 379.3,547.3 380.3,547.6 381.4,547.8 382.4,548.1 383.4,548.4 384.5,548.6 385.5,548.9 386.5,549.1 387.6,549.4 388.6,549.6 389.6,549.8 390.7,550.1 391.7,550.3 392.7,550.5 393.8,550.8 394.8,551.0 395.8,551.2 396.9,551.4 397.9,551.6 398.9,551.8 400.0,552.0 401.0,552.2 402.0,552.4 403.1,552.6 404.1,552.8 405.1,553.0 406.2,553.1 407.2,553.3 408.2,553.4 409.3,553.6 410.3,553.7 411.3,553.8 412.4,554.0 413.4,554.1 414.4,554.2 415.5,554.4 416.5,554.5 417.5,554.6 418.6,554.8 419.6,554.9 420.7,555.0 421.8,555.2 422.8,555.3 423.9,555.4 424.9,555.5 425.9,555.7 426.9,555.8 427.9,555.9 428.9,556.0 429.9,556.1 430.9,556.2 431.9,556.3 432.9,556.5 433.9,556.6 434.9,556.7 435.8,556.8 436.7,556.9 437.5,557.0 438.2,557.1 438.8,557.1 439.3,557.2" fill="none" stroke="#1766dc" stroke-width="1.2" stroke-linejoin="round"/>
<polyline points="289.4,553.0 289.9,553.4 290.5,553.8 291.2,554.3 292.1,554.9 292.9,555.5 293.9,556.2 294.9,556.9 295.9,557.6 296.9,558.3 297.9,559.0 298.9,559.7 299.9,560.4 300.9,561.1 301.9,561.7 302.9,562.4 303.9,563.1 304.9,563.8 306.0,564.5 307.0,565.2 308.1,565.9 309.2,566.6 310.2,567.3 311.3,568.0 312.3,568.6 313.3,569.2 314.4,569.8 315.4,570.4 316.4,571.0 317.5,571.6 318.5,572.1 319.5,572.7 320.6,573.2 321.6,573.7 322.6,574.3 323.7,574.8 324.7,575.3 325.7,575.8 326.8,576.3 327.8,576.8 328.8,577.3 329.9,577.7 330.9,578.2 331.9,578.6 333.0,579.1 334.0,579.5 335.0,580.0 336.1,580.4 337.1,580.8 338.1,581.2 339.2,581.6 340.2,582.0 341.2,582.4 342.3,582.8 343.3,583.2 344.3,583.6 345.4,583.9 346.4,584.3 347.4,584.6 348.5,585.0 349.5,585.3 350.5,585.6 351.5,585.9 352.5,586.2 353.4,586.5 354.4,586.8 355.4,587.0 356.4,587.3 357.4,587.5 358.4,587.8 359.5,588.0 360.7,588.3 361.9,588.5 363.2,588.7 364.6,589.0 366.0,589.2 367.5,589.4 369.0,589.7 370.6,589.9 372.2,590.1 373.7,590.3 375.2,590.5 376.6,590.7 378.0,590.8 379.3,591.0 380.5,591.1 381.7,591.3 382.8,591.4 383.8,591.5 384.8,591.6 385.8,591.7 386.8,591.8 387.8,591.9 388.7,592.0 389.7,592.0 390.7,592.1 391.7,592.2 392.7,592.3 393.8,592.4 394.8,592.4 395.8,592.5 396.9,592.6 397.9,592.6 398.9,592.7 400.0,592.8 401.0,592.8 402.0,592.9 403.1,592.9 404.1,593.0 405.1,593.1 406.0,593.1 407.0,593.1 407.8,593.2 408.7,593.2 409.7,593.3 410.6,593.3 411.6,593.3 412.7,593.4 413.8,593.4 415.1,593.5 416.5,593.5 418.1,593.5 420.0,593.6 422.0,593.6 424.2,593.7 426.4,593.7 428.7,593.8 430.9,593.8 433.0,593.9 435.0,593.9 436.7,593.9 438.2,594.0 439.3,594.0" fill="none" stroke="#1766dc" stroke-width="1.2" stroke-linejoin="round"/>
<polyline points="509.9,529.4 510.4,528.8 511.0,528.1 511.7,527.2 512.5,526.3 513.4,525.2 514.3,524.1 515.2,523.0 516.2,521.8 517.2,520.7 518.1,519.6 519.0,518.5 519.9,517.5 520.7,516.6 521.6,515.6 522.4,514.7 523.2,513.7 524.0,512.8 524.9,511.9 525.7,511.0 526.5,510.1 527.3,509.2 528.2,508.3 529.0,507.5 529.8,506.6 530.6,505.8 531.4,504.9 532.3,504.1 533.1,503.3 533.9,502.5 534.8,501.7 535.6,500.9 536.4,500.1 537.2,499.3 538.0,498.6 538.9,497.8 539.7,497.1 540.5,496.4 541.3,495.7 542.1,495.0 542.9,494.4 543.7,493.7 544.5,493.1 545.3,492.5 546.1,491.8 546.9,491.2 547.8,490.5 548.7,489.9 549.6,489.2 550.5,488.5 551.5,487.8 552.5,487.0 553.5,486.3 554.6,485.5 555.6,484.8 556.7,484.0 557.8,483.3 558.8,482.6 559.9,481.9 561.0,481.2 562.0,480.5 563.0,479.9 564.1,479.2 565.1,478.6 566.2,478.0 567.2,477.4 568.2,476.8 569.3,476.2 570.3,475.7 571.4,475.1 572.4,474.6 573.5,474.0 574.5,473.5 575.5,473.0 576.6,472.5 577.6,472.0 578.6,471.5 579.7,471.0 580.7,470.5 581.7,470.1 582.8,469.6 583.8,469.1 584.8,468.7 585.9,468.2 586.9,467.8 587.9,467.4 589.0,466.9 590.0,466.5 591.0,466.1 592.1,465.7 593.1,465.3 594.1,464.9 595.2,464.5 596.2,464.1 597.2,463.7 598.3,463.3 599.3,462.9 600.3,462.5 601.4,462.1 602.4,461.8 603.4,461.4 604.5,461.1 605.5,460.7 606.5,460.4 607.6,460.0 608.6,459.7 609.6,459.3 610.7,459.0 611.7,458.7 612.7,458.4 613.8,458.1 614.8,457.8 615.8,457.5 616.9,457.2 617.9,456.9 618.9,456.7 620.0,456.4 621.0,456.1 622.0,455.9 623.1,455.6 624.1,455.4 625.1,455.2 626.2,454.9 627.2,454.7 628.2,454.5 629.3,454.2 630.3,454.0 631.3,453.8 632.4,453.6 633.4,453.4 634.4,453.2 635.5,453.1 636.5,452.9 637.5,452.7 638.6,452.6 639.6,452.5 640.7,452.3 641.8,452.2 642.8,452.1 643.9,452.0 644.9,451.9 645.9,451.8 646.9,451.7 647.9,451.6 648.9,451.5 649.9,451.4 650.9,451.3 651.9,451.2 653.0,451.1 654.0,451.0 655.0,450.9 656.0,450.8 656.9,450.7 657.7,450.7 658.5,450.6 659.1,450.5 659.6,450.5" fill="none" stroke="#e93a42" stroke-width="1.2" stroke-linejoin="round"/>
<polyline points="509.9,510.8 510.3,511.4 510.7,512.2 511.2,513.2 511.8,514.2 512.5,515.4 513.2,516.6 513.9,517.8 514.6,519.1 515.4,520.4 516.1,521.6 516.8,522.8 517.4,523.9 518.0,525.0 518.6,526.0 519.3,527.1 519.9,528.1 520.5,529.2 521.1,530.2 521.7,531.3 522.3,532.3 522.9,533.3 523.6,534.3 524.2,535.3 524.8,536.3 525.4,537.3 526.0,538.2 526.6,539.1 527.2,540.0 527.8,540.9 528.4,541.8 529.0,542.7 529.6,543.6 530.3,544.5 530.9,545.4 531.6,546.4 532.3,547.3 533.0,548.3 533.8,549.3 534.6,550.3 535.4,551.3 536.3,552.3 537.1,553.3 538.0,554.3 538.8,555.3 539.7,556.3 540.5,557.3 541.4,558.3 542.2,559.2 543.0,560.1 543.8,561.0 544.6,561.8 545.4,562.7 546.2,563.5 547.0,564.4 547.8,565.2 548.6,566.0 549.4,566.8 550.3,567.5 551.2,568.3 552.1,569.1 553.0,569.9 554.0,570.6 555.0,571.4 556.0,572.2 557.1,572.9 558.1,573.7 559.2,574.4 560.3,575.1 561.3,575.8 562.4,576.5 563.5,577.2 564.5,577.8 565.5,578.4 566.6,579.0 567.6,579.6 568.6,580.1 569.7,580.7 570.7,581.2 571.7,581.7 572.8,582.2 573.8,582.7 574.8,583.1 575.9,583.6 576.9,584.0 577.9,584.4 579.0,584.8 580.0,585.2 581.0,585.5 582.0,585.9 583.0,586.2 584.0,586.5 585.1,586.8 586.1,587.1 587.2,587.4 588.3,587.7 589.4,588.0 590.5,588.3 591.7,588.6 592.8,588.8 594.0,589.1 595.1,589.3 596.3,589.6 597.6,589.8 598.8,590.0 600.1,590.3 601.4,590.5 602.8,590.7 604.2,590.9 605.7,591.1 607.3,591.3 608.9,591.5 610.5,591.7 612.3,591.8 614.0,592.0 615.7,592.2 617.5,592.3 619.2,592.5 620.9,592.6 622.5,592.8 624.1,592.9 625.6,593.0 627.1,593.1 628.6,593.2 630.1,593.3 631.5,593.4 632.9,593.5 634.3,593.6 635.7,593.6 637.2,593.7 638.6,593.8 640.0,593.8 641.5,593.9 643.0,594.0 644.7,594.0 646.4,594.1 648.2,594.1 649.9,594.2 651.6,594.2 653.3,594.3 654.9,594.3 656.3,594.3 657.6,594.4 658.7,594.4 659.6,594.4" fill="none" stroke="#1766dc" stroke-width="1.2" stroke-linejoin="round"/>
<polyline points="509.9,574.6 510.4,574.3 511.0,573.9 511.7,573.5 512.5,572.9 513.4,572.4 514.3,571.8 515.2,571.2 516.2,570.6 517.2,570.0 518.1,569.4 519.0,568.9 519.9,568.4 520.7,567.9 521.5,567.5 522.3,567.0 523.1,566.6 523.9,566.2 524.7,565.8 525.5,565.4 526.3,565.0 527.2,564.6 528.0,564.2 528.9,563.8 529.8,563.4 530.7,563.0 531.7,562.6 532.7,562.2 533.7,561.9 534.8,561.5 535.8,561.1 536.9,560.7 538.0,560.4 539.0,560.1 540.1,559.8 541.2,559.5 542.2,559.2 543.2,559.0 544.3,558.7 545.3,558.5 546.3,558.4 547.4,558.2 548.4,558.0 549.4,557.9 550.5,557.8 551.5,557.7 552.5,557.6 553.6,557.5 554.6,557.4 555.6,557.3 556.7,557.3 557.7,557.2 558.7,557.2 559.8,557.2 560.8,557.2 561.8,557.2 562.9,557.2 563.9,557.3 564.9,557.3 566.0,557.3 567.0,557.4 568.0,557.5 569.0,557.5 569.9,557.6 570.9,557.7 571.8,557.8 572.7,557.9 573.7,558.0 574.7,558.1 575.8,558.2 576.9,558.4 578.1,558.5 579.4,558.7 580.8,558.9 582.3,559.1 583.8,559.3 585.5,559.6 587.2,559.8 588.9,560.1 590.6,560.4 592.4,560.6 594.2,560.9 595.9,561.2 597.6,561.4 599.3,561.7 601.0,561.9 602.6,562.2 604.3,562.4 605.9,562.7 607.6,562.9 609.2,563.2 610.8,563.4 612.5,563.6 614.1,563.9 615.8,564.1 617.4,564.4 619.1,564.6 620.8,564.8 622.4,565.1 624.1,565.3 625.7,565.6 627.3,565.8 629.0,566.0 630.7,566.3 632.3,566.5 634.0,566.7 635.6,567.0 637.3,567.2 639.0,567.4 640.8,567.6 642.6,567.8 644.6,568.0 646.6,568.3 648.6,568.5 650.5,568.7 652.4,568.9 654.2,569.1 655.9,569.2 657.4,569.4 658.6,569.5 659.6,569.6" fill="none" stroke="#1766dc" stroke-width="1.2" stroke-linejoin="round"/>
</svg></body></html>
